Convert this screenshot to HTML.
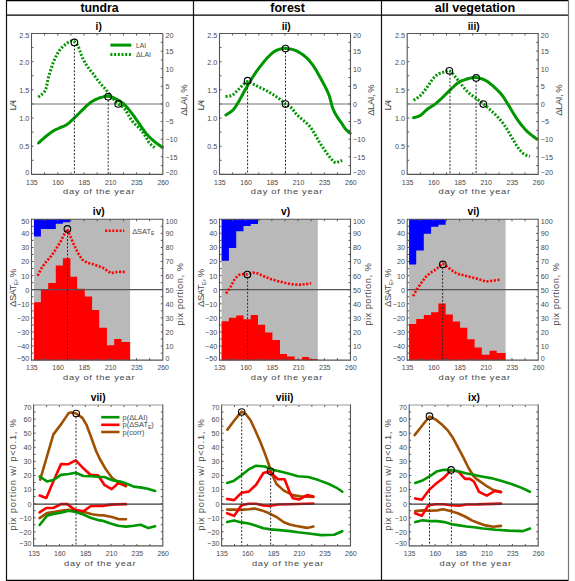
<!DOCTYPE html>
<html><head><meta charset="utf-8"><style>
html,body{margin:0;padding:0;background:#fff;}
svg{display:block;font-family:"Liberation Sans",sans-serif;}
</style></head><body>
<svg width="575" height="581" viewBox="0 0 575 581">
<rect x="0" y="0" width="575" height="581" fill="#fff"/>
<line x1="6.5" y1="0.5" x2="568.5" y2="0.5" stroke="#000" stroke-width="1.3"/>
<line x1="6.5" y1="15.2" x2="568.5" y2="15.2" stroke="#000" stroke-width="1.3"/>
<line x1="6.5" y1="580.5" x2="568.5" y2="580.5" stroke="#000" stroke-width="1.3"/>
<line x1="6.5" y1="0" x2="6.5" y2="581" stroke="#111" stroke-width="1.2"/>
<line x1="193.5" y1="0" x2="193.5" y2="581" stroke="#111" stroke-width="1.2"/>
<line x1="381.5" y1="0" x2="381.5" y2="581" stroke="#111" stroke-width="1.2"/>
<line x1="568.5" y1="0" x2="568.5" y2="581" stroke="#777" stroke-width="1.2"/>
<text x="99.6" y="12" font-size="12.2" text-anchor="middle" font-weight="bold" fill="#000" textLength="38.2" lengthAdjust="spacingAndGlyphs">tundra</text>
<text x="287.6" y="12" font-size="12.2" text-anchor="middle" font-weight="bold" fill="#000" textLength="34.6" lengthAdjust="spacingAndGlyphs">forest</text>
<text x="475" y="12" font-size="12.2" text-anchor="middle" font-weight="bold" fill="#000" textLength="80.6" lengthAdjust="spacingAndGlyphs">all vegetation</text>
<line x1="31.5" y1="103.95" x2="162.8" y2="103.95" stroke="#a0a0a0" stroke-width="1.6"/>
<text x="98.7" y="29.5" font-size="10.2" text-anchor="middle" font-weight="bold" fill="#000">i)</text>
<line x1="219.5" y1="103.95" x2="350.5" y2="103.95" stroke="#a0a0a0" stroke-width="1.6"/>
<text x="286.2" y="29.5" font-size="10.2" text-anchor="middle" font-weight="bold" fill="#000">ii)</text>
<line x1="407.2" y1="103.95" x2="538.2" y2="103.95" stroke="#a0a0a0" stroke-width="1.6"/>
<text x="473.7" y="29.5" font-size="10.2" text-anchor="middle" font-weight="bold" fill="#000">iii)</text>
<polyline points="38.5,143 39.14,142.41 40.01,141.6 41.04,140.64 42.19,139.59 43.4,138.52 44.6,137.5 45.85,136.47 47.21,135.38 48.62,134.26 50.04,133.18 51.41,132.17 52.7,131.3 53.88,130.58 54.99,129.99 56.05,129.47 57.1,128.99 58.18,128.52 59.3,128 60.48,127.48 61.68,127.01 62.91,126.54 64.14,126.02 65.38,125.42 66.6,124.7 67.82,123.84 69.03,122.86 70.24,121.8 71.46,120.69 72.68,119.54 73.9,118.4 75.13,117.24 76.36,116.03 77.6,114.79 78.84,113.55 80.07,112.31 81.3,111.1 82.54,109.88 83.8,108.63 85.05,107.39 86.28,106.2 87.47,105.09 88.6,104.1 89.64,103.24 90.61,102.5 91.53,101.83 92.45,101.23 93.39,100.66 94.4,100.1 95.47,99.56 96.59,99.04 97.73,98.57 98.88,98.13 100.04,97.74 101.2,97.4 102.36,97.09 103.52,96.79 104.69,96.54 105.87,96.36 107.04,96.27 108.2,96.3 109.35,96.45 110.47,96.7 111.6,97.04 112.74,97.46 113.9,97.95 115.1,98.5 116.35,99.09 117.64,99.74 118.95,100.46 120.27,101.26 121.6,102.17 122.9,103.2 124.19,104.37 125.47,105.67 126.75,107.07 128.03,108.56 129.31,110.11 130.6,111.7 131.9,113.37 133.2,115.13 134.5,116.95 135.8,118.81 137.1,120.67 138.4,122.5 139.69,124.35 140.97,126.24 142.25,128.14 143.53,130 144.81,131.77 146.1,133.4 147.39,134.89 148.67,136.26 149.95,137.54 151.24,138.76 152.56,139.94 153.9,141.1 155.37,142.29 157,143.51 158.64,144.68 160.17,145.75 161.47,146.64 162.4,147.3" fill="none" stroke="#009600" stroke-width="3" stroke-linejoin="round" stroke-linecap="round"/>
<polyline points="38.3,97.1 39.1,96.44 40.24,95.58 41.58,94.54 42.96,93.34 44.21,92.02 45.2,90.6 45.89,89.01 46.41,87.21 46.81,85.29 47.15,83.33 47.49,81.4 47.9,79.6 48.35,77.94 48.78,76.35 49.21,74.81 49.67,73.26 50.16,71.67 50.7,70 51.29,68.22 51.92,66.36 52.58,64.45 53.28,62.54 54.02,60.68 54.8,58.9 55.62,57.17 56.48,55.46 57.37,53.79 58.31,52.19 59.29,50.69 60.3,49.3 61.4,48.02 62.6,46.83 63.84,45.73 65.06,44.74 66.2,43.86 67.2,43.1 68.06,42.48 68.81,41.99 69.49,41.61 70.11,41.33 70.71,41.13 71.3,41 71.87,40.92 72.38,40.91 72.87,40.97 73.35,41.14 73.85,41.41 74.4,41.8 74.99,42.28 75.6,42.84 76.23,43.51 76.88,44.31 77.54,45.3 78.2,46.5 78.86,48 79.52,49.78 80.19,51.74 80.89,53.77 81.62,55.76 82.4,57.6 83.24,59.32 84.14,61.01 85.07,62.66 86.02,64.26 86.97,65.77 87.9,67.2 88.82,68.51 89.76,69.7 90.69,70.83 91.61,71.91 92.52,72.99 93.4,74.1 94.21,75.21 94.96,76.27 95.68,77.33 96.44,78.43 97.3,79.61 98.3,80.9 99.51,82.37 100.89,83.99 102.36,85.69 103.84,87.39 105.25,89.02 106.5,90.5 107.56,91.82 108.51,93.05 109.38,94.2 110.21,95.31 111.07,96.4 112,97.5 112.99,98.62 114.01,99.74 115.06,100.84 116.11,101.91 117.16,102.94 118.2,103.9 119.21,104.69 120.21,105.31 121.2,105.88 122.21,106.53 123.27,107.39 124.4,108.6 125.61,110.28 126.89,112.34 128.21,114.61 129.55,116.93 130.89,119.12 132.2,121 133.52,122.57 134.89,123.97 136.24,125.24 137.56,126.42 138.79,127.56 139.9,128.7 140.86,129.8 141.69,130.82 142.44,131.79 143.15,132.77 143.86,133.79 144.6,134.9 145.36,136.14 146.11,137.49 146.86,138.88 147.61,140.26 148.39,141.55 149.2,142.7 150.12,143.74 151.14,144.73 152.19,145.64 153.17,146.44 154,147.1 154.6,147.6" fill="none" stroke="#009600" stroke-width="3" stroke-linejoin="round" stroke-linecap="butt" stroke-dasharray="2 1.7"/>
<line x1="74.4" y1="45" x2="74.4" y2="174.4" stroke="#2a2a2a" stroke-width="1" stroke-dasharray="2 1.6"/>
<line x1="108.2" y1="100" x2="108.2" y2="174.4" stroke="#2a2a2a" stroke-width="1" stroke-dasharray="2 1.6"/>
<circle cx="74.4" cy="42.4" r="3.3" fill="none" stroke="#000" stroke-width="1.1"/>
<circle cx="108.2" cy="96.7" r="3.3" fill="none" stroke="#000" stroke-width="1.1"/>
<circle cx="118.2" cy="103.9" r="3.3" fill="none" stroke="#000" stroke-width="1.1"/>
<polyline points="225.9,115 226.69,114.49 227.8,113.81 229.11,113 230.5,112.07 231.83,111.06 233,110 233.98,108.9 234.86,107.73 235.7,106.49 236.54,105.13 237.42,103.65 238.4,102 239.47,100.16 240.6,98.13 241.77,95.96 242.98,93.72 244.23,91.45 245.5,89.2 246.83,86.91 248.23,84.52 249.66,82.1 251.09,79.73 252.48,77.47 253.8,75.4 255.02,73.56 256.16,71.89 257.26,70.34 258.36,68.84 259.49,67.35 260.7,65.8 262.01,64.15 263.39,62.45 264.8,60.75 266.21,59.1 267.59,57.57 268.9,56.2 270.13,54.99 271.3,53.9 272.43,52.93 273.55,52.05 274.67,51.28 275.8,50.6 277,50.04 278.25,49.6 279.5,49.26 280.7,49 281.78,48.79 282.7,48.6 283.34,48.44 283.71,48.32 283.98,48.25 284.28,48.24 284.77,48.29 285.6,48.4 286.82,48.56 288.31,48.74 289.99,48.99 291.78,49.33 293.58,49.79 295.3,50.4 297,51.18 298.76,52.11 300.52,53.17 302.27,54.32 303.94,55.54 305.5,56.8 306.93,58.09 308.26,59.44 309.51,60.85 310.73,62.35 311.95,63.96 313.2,65.7 314.47,67.58 315.74,69.59 317,71.7 318.26,73.9 319.53,76.18 320.8,78.5 322.12,80.92 323.49,83.47 324.87,86.08 326.2,88.71 327.42,91.3 328.5,93.8 329.4,96.27 330.14,98.76 330.79,101.22 331.39,103.57 331.98,105.75 332.6,107.7 333.23,109.35 333.84,110.76 334.43,111.99 335.04,113.13 335.69,114.28 336.4,115.5 337.2,116.81 338.08,118.14 338.99,119.48 339.91,120.78 340.79,122.03 341.6,123.2 342.32,124.29 342.97,125.33 343.58,126.31 344.19,127.25 344.82,128.14 345.5,129 346.29,129.85 347.18,130.7 348.09,131.51 348.95,132.24 349.68,132.85 350.2,133.3" fill="none" stroke="#009600" stroke-width="3" stroke-linejoin="round" stroke-linecap="round"/>
<polyline points="225.6,96.5 226.28,96.42 227.23,96.35 228.36,96.25 229.56,96.08 230.74,95.81 231.8,95.4 232.76,94.82 233.69,94.1 234.59,93.28 235.49,92.39 236.39,91.48 237.3,90.6 238.22,89.7 239.16,88.74 240.09,87.77 241.02,86.81 241.92,85.91 242.8,85.1 243.62,84.33 244.4,83.55 245.16,82.83 245.92,82.23 246.73,81.8 247.6,81.6 248.54,81.7 249.54,82.04 250.57,82.57 251.63,83.19 252.71,83.83 253.8,84.4 254.91,84.93 256.05,85.49 257.21,86.06 258.37,86.64 259.54,87.22 260.7,87.8 261.85,88.37 263,88.94 264.16,89.51 265.31,90.09 266.46,90.68 267.6,91.3 268.74,91.94 269.87,92.6 271,93.27 272.13,93.96 273.26,94.67 274.4,95.4 275.57,96.17 276.79,96.97 278.01,97.79 279.19,98.61 280.3,99.42 281.3,100.2 282.15,100.96 282.87,101.71 283.53,102.45 284.16,103.17 284.83,103.85 285.6,104.5 286.48,105.06 287.42,105.53 288.4,105.96 289.39,106.43 290.37,106.99 291.3,107.7 292.17,108.6 292.99,109.65 293.8,110.79 294.62,111.96 295.48,113.12 296.4,114.2 297.4,115.21 298.47,116.19 299.57,117.14 300.69,118.09 301.81,119.04 302.9,120 303.99,120.94 305.09,121.86 306.18,122.78 307.26,123.73 308.3,124.72 309.3,125.8 310.24,126.96 311.12,128.17 311.98,129.44 312.81,130.76 313.65,132.11 314.5,133.5 315.37,134.95 316.24,136.48 317.11,138.05 317.97,139.62 318.84,141.15 319.7,142.6 320.55,143.97 321.4,145.29 322.25,146.57 323.1,147.83 323.95,149.07 324.8,150.3 325.66,151.54 326.53,152.79 327.4,154.01 328.27,155.2 329.14,156.34 330,157.4 330.87,158.44 331.75,159.47 332.63,160.45 333.49,161.32 334.32,162.02 335.1,162.5 335.83,162.7 336.51,162.66 337.17,162.44 337.8,162.14 338.4,161.84 339,161.6 339.61,161.4 340.24,161.18 340.84,160.94 341.4,160.72 341.86,160.53 342.2,160.4" fill="none" stroke="#009600" stroke-width="3" stroke-linejoin="round" stroke-linecap="butt" stroke-dasharray="2 1.7"/>
<line x1="247.6" y1="84" x2="247.6" y2="174.4" stroke="#2a2a2a" stroke-width="1" stroke-dasharray="2 1.6"/>
<line x1="285.5" y1="52" x2="285.5" y2="174.4" stroke="#2a2a2a" stroke-width="1" stroke-dasharray="2 1.6"/>
<circle cx="247.6" cy="80.7" r="3.3" fill="none" stroke="#000" stroke-width="1.1"/>
<circle cx="285.5" cy="48.6" r="3.3" fill="none" stroke="#000" stroke-width="1.1"/>
<circle cx="285.5" cy="104.1" r="3.3" fill="none" stroke="#000" stroke-width="1.1"/>
<polyline points="413.6,117.8 414.35,117.57 415.39,117.29 416.62,116.93 417.94,116.49 419.27,115.95 420.5,115.3 421.64,114.48 422.77,113.5 423.9,112.41 425.04,111.29 426.2,110.2 427.4,109.2 428.65,108.3 429.94,107.46 431.25,106.65 432.56,105.84 433.85,105 435.1,104.1 436.29,103.16 437.43,102.2 438.54,101.21 439.66,100.19 440.81,99.12 442,98 443.24,96.81 444.5,95.56 445.79,94.26 447.11,92.93 448.44,91.61 449.8,90.3 451.21,88.95 452.67,87.53 454.16,86.1 455.63,84.74 457.06,83.52 458.4,82.5 459.67,81.72 460.91,81.11 462.09,80.65 463.23,80.27 464.3,79.94 465.3,79.6 466.19,79.27 466.97,78.99 467.69,78.76 468.4,78.55 469.16,78.37 470,78.2 470.91,78.02 471.85,77.82 472.83,77.64 473.86,77.53 474.98,77.5 476.2,77.6 477.56,77.82 479.06,78.13 480.63,78.53 482.23,79.03 483.81,79.62 485.3,80.3 486.71,81.1 488.07,82.01 489.41,83.01 490.74,84.09 492.06,85.23 493.4,86.4 494.77,87.62 496.17,88.91 497.57,90.26 498.95,91.64 500.27,93.06 501.5,94.5 502.63,95.96 503.68,97.45 504.68,98.98 505.64,100.53 506.61,102.1 507.6,103.7 508.62,105.34 509.63,107.04 510.65,108.76 511.67,110.47 512.68,112.16 513.7,113.8 514.69,115.37 515.66,116.9 516.62,118.41 517.62,119.9 518.67,121.39 519.8,122.9 521.02,124.45 522.31,126.04 523.66,127.63 525.04,129.19 526.46,130.69 527.9,132.1 529.48,133.49 531.23,134.89 533.01,136.22 534.67,137.44 536.09,138.45 537.1,139.2" fill="none" stroke="#009600" stroke-width="3" stroke-linejoin="round" stroke-linecap="round"/>
<polyline points="413.6,100.3 414.35,99.81 415.39,99.17 416.62,98.39 417.94,97.49 419.27,96.49 420.5,95.4 421.66,94.18 422.83,92.81 424.01,91.33 425.17,89.8 426.3,88.28 427.4,86.8 428.46,85.32 429.5,83.77 430.51,82.23 431.49,80.75 432.46,79.38 433.4,78.2 434.3,77.21 435.16,76.36 436,75.64 436.84,75 437.7,74.43 438.6,73.9 439.57,73.42 440.59,73.03 441.63,72.7 442.66,72.41 443.66,72.15 444.6,71.9 445.46,71.59 446.26,71.21 447.02,70.87 447.79,70.63 448.57,70.58 449.4,70.8 450.27,71.32 451.16,72.09 452.07,73.04 453.01,74.13 453.99,75.3 455,76.5 456.06,77.77 457.17,79.18 458.32,80.67 459.48,82.19 460.65,83.68 461.8,85.1 462.94,86.48 464.09,87.86 465.24,89.22 466.4,90.53 467.55,91.77 468.7,92.9 469.84,93.9 470.97,94.78 472.1,95.58 473.24,96.36 474.4,97.15 475.6,98 476.83,98.9 478.09,99.8 479.38,100.73 480.67,101.67 481.98,102.66 483.3,103.7 484.63,104.79 485.97,105.93 487.33,107.1 488.69,108.31 490.05,109.54 491.4,110.8 492.77,112.09 494.17,113.43 495.57,114.79 496.95,116.16 498.27,117.54 499.5,118.9 500.63,120.23 501.68,121.52 502.68,122.82 503.64,124.14 504.61,125.53 505.6,127 506.62,128.58 507.63,130.25 508.65,131.97 509.67,133.73 510.68,135.48 511.7,137.2 512.72,138.93 513.73,140.7 514.75,142.47 515.77,144.19 516.78,145.81 517.8,147.3 518.82,148.66 519.83,149.94 520.85,151.13 521.87,152.21 522.88,153.17 523.9,154 524.99,154.68 526.16,155.21 527.33,155.62 528.42,155.94 529.34,156.19 530,156.4" fill="none" stroke="#009600" stroke-width="3" stroke-linejoin="round" stroke-linecap="butt" stroke-dasharray="2 1.7"/>
<line x1="450" y1="74" x2="450" y2="174.4" stroke="#2a2a2a" stroke-width="1" stroke-dasharray="2 1.6"/>
<line x1="476.1" y1="81" x2="476.1" y2="174.4" stroke="#2a2a2a" stroke-width="1" stroke-dasharray="2 1.6"/>
<circle cx="449.4" cy="70.8" r="3.3" fill="none" stroke="#000" stroke-width="1.1"/>
<circle cx="476.2" cy="77.9" r="3.3" fill="none" stroke="#000" stroke-width="1.1"/>
<circle cx="483.3" cy="104.1" r="3.3" fill="none" stroke="#000" stroke-width="1.1"/>
<line x1="110.4" y1="45.1" x2="131.3" y2="45.1" stroke="#009600" stroke-width="3"/>
<line x1="110.4" y1="54.5" x2="131.3" y2="54.5" stroke="#009600" stroke-width="3" stroke-dasharray="2 1.7"/>
<text x="136" y="47.6" font-size="7.4" text-anchor="start" font-weight="normal" fill="#484848" textLength="10" lengthAdjust="spacingAndGlyphs">LAI</text>
<text x="136" y="57.1" font-size="7.4" text-anchor="start" font-weight="normal" fill="#484848" textLength="15" lengthAdjust="spacingAndGlyphs">&#916;LAI</text>
<line x1="44.63" y1="174.4" x2="44.63" y2="172.4" stroke="#555" stroke-width="1"/>
<line x1="44.63" y1="33.5" x2="44.63" y2="35.5" stroke="#555" stroke-width="1"/>
<line x1="57.76" y1="174.4" x2="57.76" y2="172.4" stroke="#555" stroke-width="1"/>
<line x1="57.76" y1="33.5" x2="57.76" y2="35.5" stroke="#555" stroke-width="1"/>
<line x1="70.89" y1="174.4" x2="70.89" y2="172.4" stroke="#555" stroke-width="1"/>
<line x1="70.89" y1="33.5" x2="70.89" y2="35.5" stroke="#555" stroke-width="1"/>
<line x1="84.02" y1="174.4" x2="84.02" y2="172.4" stroke="#555" stroke-width="1"/>
<line x1="84.02" y1="33.5" x2="84.02" y2="35.5" stroke="#555" stroke-width="1"/>
<line x1="97.15" y1="174.4" x2="97.15" y2="172.4" stroke="#555" stroke-width="1"/>
<line x1="97.15" y1="33.5" x2="97.15" y2="35.5" stroke="#555" stroke-width="1"/>
<line x1="110.28" y1="174.4" x2="110.28" y2="172.4" stroke="#555" stroke-width="1"/>
<line x1="110.28" y1="33.5" x2="110.28" y2="35.5" stroke="#555" stroke-width="1"/>
<line x1="123.41" y1="174.4" x2="123.41" y2="172.4" stroke="#555" stroke-width="1"/>
<line x1="123.41" y1="33.5" x2="123.41" y2="35.5" stroke="#555" stroke-width="1"/>
<line x1="136.54" y1="174.4" x2="136.54" y2="172.4" stroke="#555" stroke-width="1"/>
<line x1="136.54" y1="33.5" x2="136.54" y2="35.5" stroke="#555" stroke-width="1"/>
<line x1="149.67" y1="174.4" x2="149.67" y2="172.4" stroke="#555" stroke-width="1"/>
<line x1="149.67" y1="33.5" x2="149.67" y2="35.5" stroke="#555" stroke-width="1"/>
<text x="31.9" y="184.7" font-size="7.2" text-anchor="middle" font-weight="normal" fill="#484848" textLength="11.6" lengthAdjust="spacingAndGlyphs">135</text>
<text x="58.16" y="184.7" font-size="7.2" text-anchor="middle" font-weight="normal" fill="#484848" textLength="11.6" lengthAdjust="spacingAndGlyphs">160</text>
<text x="84.42" y="184.7" font-size="7.2" text-anchor="middle" font-weight="normal" fill="#484848" textLength="11.6" lengthAdjust="spacingAndGlyphs">185</text>
<text x="110.68" y="184.7" font-size="7.2" text-anchor="middle" font-weight="normal" fill="#484848" textLength="11.6" lengthAdjust="spacingAndGlyphs">210</text>
<text x="136.94" y="184.7" font-size="7.2" text-anchor="middle" font-weight="normal" fill="#484848" textLength="11.6" lengthAdjust="spacingAndGlyphs">235</text>
<text x="163.2" y="184.7" font-size="7.2" text-anchor="middle" font-weight="normal" fill="#484848" textLength="11.6" lengthAdjust="spacingAndGlyphs">260</text>
<text transform="translate(98.75,194.2) scale(1.18,1)" font-size="7.9" text-anchor="middle" fill="#484848" textLength="60.59" lengthAdjust="spacing">day of the year</text>
<line x1="31.5" y1="33.5" x2="162.8" y2="33.5" stroke="#555" stroke-width="1.1"/>
<line x1="31.5" y1="174.4" x2="162.8" y2="174.4" stroke="#555" stroke-width="1.1"/>
<line x1="31.5" y1="32.95" x2="31.5" y2="174.95" stroke="#555" stroke-width="1.1"/>
<line x1="162.8" y1="32.95" x2="162.8" y2="174.95" stroke="#555" stroke-width="1.1"/>
<line x1="31.5" y1="160.31" x2="33.5" y2="160.31" stroke="#555" stroke-width="1"/>
<line x1="31.5" y1="146.22" x2="33.5" y2="146.22" stroke="#555" stroke-width="1"/>
<line x1="31.5" y1="132.13" x2="33.5" y2="132.13" stroke="#555" stroke-width="1"/>
<line x1="31.5" y1="118.04" x2="33.5" y2="118.04" stroke="#555" stroke-width="1"/>
<line x1="31.5" y1="103.95" x2="33.5" y2="103.95" stroke="#555" stroke-width="1"/>
<line x1="31.5" y1="89.86" x2="33.5" y2="89.86" stroke="#555" stroke-width="1"/>
<line x1="31.5" y1="75.77" x2="33.5" y2="75.77" stroke="#555" stroke-width="1"/>
<line x1="31.5" y1="61.68" x2="33.5" y2="61.68" stroke="#555" stroke-width="1"/>
<line x1="31.5" y1="47.59" x2="33.5" y2="47.59" stroke="#555" stroke-width="1"/>
<text x="29.3" y="174.9" font-size="7.2" text-anchor="end" font-weight="normal" fill="#484848">0</text>
<text x="29.3" y="149.12" font-size="7.2" text-anchor="end" font-weight="normal" fill="#484848">0.5</text>
<text x="29.3" y="120.94" font-size="7.2" text-anchor="end" font-weight="normal" fill="#484848">1.0</text>
<text x="29.3" y="92.76" font-size="7.2" text-anchor="end" font-weight="normal" fill="#484848">1.5</text>
<text x="29.3" y="64.58" font-size="7.2" text-anchor="end" font-weight="normal" fill="#484848">2.0</text>
<text x="29.3" y="38" font-size="7.2" text-anchor="end" font-weight="normal" fill="#484848">2.5</text>
<line x1="162.8" y1="165.59" x2="160.8" y2="165.59" stroke="#555" stroke-width="1"/>
<line x1="162.8" y1="156.79" x2="160.8" y2="156.79" stroke="#555" stroke-width="1"/>
<line x1="162.8" y1="147.98" x2="160.8" y2="147.98" stroke="#555" stroke-width="1"/>
<line x1="162.8" y1="139.18" x2="160.8" y2="139.18" stroke="#555" stroke-width="1"/>
<line x1="162.8" y1="130.37" x2="160.8" y2="130.37" stroke="#555" stroke-width="1"/>
<line x1="162.8" y1="121.56" x2="160.8" y2="121.56" stroke="#555" stroke-width="1"/>
<line x1="162.8" y1="112.76" x2="160.8" y2="112.76" stroke="#555" stroke-width="1"/>
<line x1="162.8" y1="103.95" x2="160.8" y2="103.95" stroke="#555" stroke-width="1"/>
<line x1="162.8" y1="95.14" x2="160.8" y2="95.14" stroke="#555" stroke-width="1"/>
<line x1="162.8" y1="86.34" x2="160.8" y2="86.34" stroke="#555" stroke-width="1"/>
<line x1="162.8" y1="77.53" x2="160.8" y2="77.53" stroke="#555" stroke-width="1"/>
<line x1="162.8" y1="68.72" x2="160.8" y2="68.72" stroke="#555" stroke-width="1"/>
<line x1="162.8" y1="59.92" x2="160.8" y2="59.92" stroke="#555" stroke-width="1"/>
<line x1="162.8" y1="51.11" x2="160.8" y2="51.11" stroke="#555" stroke-width="1"/>
<line x1="162.8" y1="42.31" x2="160.8" y2="42.31" stroke="#555" stroke-width="1"/>
<text x="165.4" y="174.9" font-size="7.2" text-anchor="start" font-weight="normal" fill="#484848">&#8722;20</text>
<text x="165.4" y="159.69" font-size="7.2" text-anchor="start" font-weight="normal" fill="#484848">&#8722;15</text>
<text x="165.4" y="142.08" font-size="7.2" text-anchor="start" font-weight="normal" fill="#484848">&#8722;10</text>
<text x="165.4" y="124.46" font-size="7.2" text-anchor="start" font-weight="normal" fill="#484848">&#8722;5</text>
<text x="165.4" y="106.85" font-size="7.2" text-anchor="start" font-weight="normal" fill="#484848">0</text>
<text x="165.4" y="89.24" font-size="7.2" text-anchor="start" font-weight="normal" fill="#484848">5</text>
<text x="165.4" y="71.62" font-size="7.2" text-anchor="start" font-weight="normal" fill="#484848">10</text>
<text x="165.4" y="54.01" font-size="7.2" text-anchor="start" font-weight="normal" fill="#484848">15</text>
<text x="165.4" y="38" font-size="7.2" text-anchor="start" font-weight="normal" fill="#484848">20</text>
<text transform="translate(15.6,105.15) rotate(-90) scale(1.15,1)" font-size="8.2" text-anchor="middle" fill="#484848" textLength="9.3" lengthAdjust="spacing">LAI</text>
<text transform="translate(186.7,100.05) rotate(-90) scale(1.15,1)" font-size="8.2" text-anchor="middle" fill="#484848" textLength="27.39" lengthAdjust="spacing">&#916;LAI, %</text>
<line x1="232.6" y1="174.4" x2="232.6" y2="172.4" stroke="#555" stroke-width="1"/>
<line x1="232.6" y1="33.5" x2="232.6" y2="35.5" stroke="#555" stroke-width="1"/>
<line x1="245.7" y1="174.4" x2="245.7" y2="172.4" stroke="#555" stroke-width="1"/>
<line x1="245.7" y1="33.5" x2="245.7" y2="35.5" stroke="#555" stroke-width="1"/>
<line x1="258.8" y1="174.4" x2="258.8" y2="172.4" stroke="#555" stroke-width="1"/>
<line x1="258.8" y1="33.5" x2="258.8" y2="35.5" stroke="#555" stroke-width="1"/>
<line x1="271.9" y1="174.4" x2="271.9" y2="172.4" stroke="#555" stroke-width="1"/>
<line x1="271.9" y1="33.5" x2="271.9" y2="35.5" stroke="#555" stroke-width="1"/>
<line x1="285" y1="174.4" x2="285" y2="172.4" stroke="#555" stroke-width="1"/>
<line x1="285" y1="33.5" x2="285" y2="35.5" stroke="#555" stroke-width="1"/>
<line x1="298.1" y1="174.4" x2="298.1" y2="172.4" stroke="#555" stroke-width="1"/>
<line x1="298.1" y1="33.5" x2="298.1" y2="35.5" stroke="#555" stroke-width="1"/>
<line x1="311.2" y1="174.4" x2="311.2" y2="172.4" stroke="#555" stroke-width="1"/>
<line x1="311.2" y1="33.5" x2="311.2" y2="35.5" stroke="#555" stroke-width="1"/>
<line x1="324.3" y1="174.4" x2="324.3" y2="172.4" stroke="#555" stroke-width="1"/>
<line x1="324.3" y1="33.5" x2="324.3" y2="35.5" stroke="#555" stroke-width="1"/>
<line x1="337.4" y1="174.4" x2="337.4" y2="172.4" stroke="#555" stroke-width="1"/>
<line x1="337.4" y1="33.5" x2="337.4" y2="35.5" stroke="#555" stroke-width="1"/>
<text x="219.9" y="184.7" font-size="7.2" text-anchor="middle" font-weight="normal" fill="#484848" textLength="11.6" lengthAdjust="spacingAndGlyphs">135</text>
<text x="246.1" y="184.7" font-size="7.2" text-anchor="middle" font-weight="normal" fill="#484848" textLength="11.6" lengthAdjust="spacingAndGlyphs">160</text>
<text x="272.3" y="184.7" font-size="7.2" text-anchor="middle" font-weight="normal" fill="#484848" textLength="11.6" lengthAdjust="spacingAndGlyphs">185</text>
<text x="298.5" y="184.7" font-size="7.2" text-anchor="middle" font-weight="normal" fill="#484848" textLength="11.6" lengthAdjust="spacingAndGlyphs">210</text>
<text x="324.7" y="184.7" font-size="7.2" text-anchor="middle" font-weight="normal" fill="#484848" textLength="11.6" lengthAdjust="spacingAndGlyphs">235</text>
<text x="350.9" y="184.7" font-size="7.2" text-anchor="middle" font-weight="normal" fill="#484848" textLength="11.6" lengthAdjust="spacingAndGlyphs">260</text>
<text transform="translate(286.6,194.2) scale(1.18,1)" font-size="7.9" text-anchor="middle" fill="#484848" textLength="60.59" lengthAdjust="spacing">day of the year</text>
<line x1="219.5" y1="33.5" x2="350.5" y2="33.5" stroke="#555" stroke-width="1.1"/>
<line x1="219.5" y1="174.4" x2="350.5" y2="174.4" stroke="#555" stroke-width="1.1"/>
<line x1="219.5" y1="32.95" x2="219.5" y2="174.95" stroke="#555" stroke-width="1.1"/>
<line x1="350.5" y1="32.95" x2="350.5" y2="174.95" stroke="#555" stroke-width="1.1"/>
<line x1="219.5" y1="160.31" x2="221.5" y2="160.31" stroke="#555" stroke-width="1"/>
<line x1="219.5" y1="146.22" x2="221.5" y2="146.22" stroke="#555" stroke-width="1"/>
<line x1="219.5" y1="132.13" x2="221.5" y2="132.13" stroke="#555" stroke-width="1"/>
<line x1="219.5" y1="118.04" x2="221.5" y2="118.04" stroke="#555" stroke-width="1"/>
<line x1="219.5" y1="103.95" x2="221.5" y2="103.95" stroke="#555" stroke-width="1"/>
<line x1="219.5" y1="89.86" x2="221.5" y2="89.86" stroke="#555" stroke-width="1"/>
<line x1="219.5" y1="75.77" x2="221.5" y2="75.77" stroke="#555" stroke-width="1"/>
<line x1="219.5" y1="61.68" x2="221.5" y2="61.68" stroke="#555" stroke-width="1"/>
<line x1="219.5" y1="47.59" x2="221.5" y2="47.59" stroke="#555" stroke-width="1"/>
<text x="217.3" y="174.9" font-size="7.2" text-anchor="end" font-weight="normal" fill="#484848">0</text>
<text x="217.3" y="149.12" font-size="7.2" text-anchor="end" font-weight="normal" fill="#484848">0.5</text>
<text x="217.3" y="120.94" font-size="7.2" text-anchor="end" font-weight="normal" fill="#484848">1.0</text>
<text x="217.3" y="92.76" font-size="7.2" text-anchor="end" font-weight="normal" fill="#484848">1.5</text>
<text x="217.3" y="64.58" font-size="7.2" text-anchor="end" font-weight="normal" fill="#484848">2.0</text>
<text x="217.3" y="38" font-size="7.2" text-anchor="end" font-weight="normal" fill="#484848">2.5</text>
<line x1="350.5" y1="165.59" x2="348.5" y2="165.59" stroke="#555" stroke-width="1"/>
<line x1="350.5" y1="156.79" x2="348.5" y2="156.79" stroke="#555" stroke-width="1"/>
<line x1="350.5" y1="147.98" x2="348.5" y2="147.98" stroke="#555" stroke-width="1"/>
<line x1="350.5" y1="139.18" x2="348.5" y2="139.18" stroke="#555" stroke-width="1"/>
<line x1="350.5" y1="130.37" x2="348.5" y2="130.37" stroke="#555" stroke-width="1"/>
<line x1="350.5" y1="121.56" x2="348.5" y2="121.56" stroke="#555" stroke-width="1"/>
<line x1="350.5" y1="112.76" x2="348.5" y2="112.76" stroke="#555" stroke-width="1"/>
<line x1="350.5" y1="103.95" x2="348.5" y2="103.95" stroke="#555" stroke-width="1"/>
<line x1="350.5" y1="95.14" x2="348.5" y2="95.14" stroke="#555" stroke-width="1"/>
<line x1="350.5" y1="86.34" x2="348.5" y2="86.34" stroke="#555" stroke-width="1"/>
<line x1="350.5" y1="77.53" x2="348.5" y2="77.53" stroke="#555" stroke-width="1"/>
<line x1="350.5" y1="68.72" x2="348.5" y2="68.72" stroke="#555" stroke-width="1"/>
<line x1="350.5" y1="59.92" x2="348.5" y2="59.92" stroke="#555" stroke-width="1"/>
<line x1="350.5" y1="51.11" x2="348.5" y2="51.11" stroke="#555" stroke-width="1"/>
<line x1="350.5" y1="42.31" x2="348.5" y2="42.31" stroke="#555" stroke-width="1"/>
<text x="353.1" y="174.9" font-size="7.2" text-anchor="start" font-weight="normal" fill="#484848">&#8722;20</text>
<text x="353.1" y="159.69" font-size="7.2" text-anchor="start" font-weight="normal" fill="#484848">&#8722;15</text>
<text x="353.1" y="142.08" font-size="7.2" text-anchor="start" font-weight="normal" fill="#484848">&#8722;10</text>
<text x="353.1" y="124.46" font-size="7.2" text-anchor="start" font-weight="normal" fill="#484848">&#8722;5</text>
<text x="353.1" y="106.85" font-size="7.2" text-anchor="start" font-weight="normal" fill="#484848">0</text>
<text x="353.1" y="89.24" font-size="7.2" text-anchor="start" font-weight="normal" fill="#484848">5</text>
<text x="353.1" y="71.62" font-size="7.2" text-anchor="start" font-weight="normal" fill="#484848">10</text>
<text x="353.1" y="54.01" font-size="7.2" text-anchor="start" font-weight="normal" fill="#484848">15</text>
<text x="353.1" y="38" font-size="7.2" text-anchor="start" font-weight="normal" fill="#484848">20</text>
<text transform="translate(203.6,105.15) rotate(-90) scale(1.15,1)" font-size="8.2" text-anchor="middle" fill="#484848" textLength="9.3" lengthAdjust="spacing">LAI</text>
<text transform="translate(374.4,100.05) rotate(-90) scale(1.15,1)" font-size="8.2" text-anchor="middle" fill="#484848" textLength="27.39" lengthAdjust="spacing">&#916;LAI, %</text>
<line x1="420.3" y1="174.4" x2="420.3" y2="172.4" stroke="#555" stroke-width="1"/>
<line x1="420.3" y1="33.5" x2="420.3" y2="35.5" stroke="#555" stroke-width="1"/>
<line x1="433.4" y1="174.4" x2="433.4" y2="172.4" stroke="#555" stroke-width="1"/>
<line x1="433.4" y1="33.5" x2="433.4" y2="35.5" stroke="#555" stroke-width="1"/>
<line x1="446.5" y1="174.4" x2="446.5" y2="172.4" stroke="#555" stroke-width="1"/>
<line x1="446.5" y1="33.5" x2="446.5" y2="35.5" stroke="#555" stroke-width="1"/>
<line x1="459.6" y1="174.4" x2="459.6" y2="172.4" stroke="#555" stroke-width="1"/>
<line x1="459.6" y1="33.5" x2="459.6" y2="35.5" stroke="#555" stroke-width="1"/>
<line x1="472.7" y1="174.4" x2="472.7" y2="172.4" stroke="#555" stroke-width="1"/>
<line x1="472.7" y1="33.5" x2="472.7" y2="35.5" stroke="#555" stroke-width="1"/>
<line x1="485.8" y1="174.4" x2="485.8" y2="172.4" stroke="#555" stroke-width="1"/>
<line x1="485.8" y1="33.5" x2="485.8" y2="35.5" stroke="#555" stroke-width="1"/>
<line x1="498.9" y1="174.4" x2="498.9" y2="172.4" stroke="#555" stroke-width="1"/>
<line x1="498.9" y1="33.5" x2="498.9" y2="35.5" stroke="#555" stroke-width="1"/>
<line x1="512" y1="174.4" x2="512" y2="172.4" stroke="#555" stroke-width="1"/>
<line x1="512" y1="33.5" x2="512" y2="35.5" stroke="#555" stroke-width="1"/>
<line x1="525.1" y1="174.4" x2="525.1" y2="172.4" stroke="#555" stroke-width="1"/>
<line x1="525.1" y1="33.5" x2="525.1" y2="35.5" stroke="#555" stroke-width="1"/>
<text x="407.6" y="184.7" font-size="7.2" text-anchor="middle" font-weight="normal" fill="#484848" textLength="11.6" lengthAdjust="spacingAndGlyphs">135</text>
<text x="433.8" y="184.7" font-size="7.2" text-anchor="middle" font-weight="normal" fill="#484848" textLength="11.6" lengthAdjust="spacingAndGlyphs">160</text>
<text x="460" y="184.7" font-size="7.2" text-anchor="middle" font-weight="normal" fill="#484848" textLength="11.6" lengthAdjust="spacingAndGlyphs">185</text>
<text x="486.2" y="184.7" font-size="7.2" text-anchor="middle" font-weight="normal" fill="#484848" textLength="11.6" lengthAdjust="spacingAndGlyphs">210</text>
<text x="512.4" y="184.7" font-size="7.2" text-anchor="middle" font-weight="normal" fill="#484848" textLength="11.6" lengthAdjust="spacingAndGlyphs">235</text>
<text x="538.6" y="184.7" font-size="7.2" text-anchor="middle" font-weight="normal" fill="#484848" textLength="11.6" lengthAdjust="spacingAndGlyphs">260</text>
<text transform="translate(474.3,194.2) scale(1.18,1)" font-size="7.9" text-anchor="middle" fill="#484848" textLength="60.59" lengthAdjust="spacing">day of the year</text>
<line x1="407.2" y1="33.5" x2="538.2" y2="33.5" stroke="#555" stroke-width="1.1"/>
<line x1="407.2" y1="174.4" x2="538.2" y2="174.4" stroke="#555" stroke-width="1.1"/>
<line x1="407.2" y1="32.95" x2="407.2" y2="174.95" stroke="#555" stroke-width="1.1"/>
<line x1="538.2" y1="32.95" x2="538.2" y2="174.95" stroke="#555" stroke-width="1.1"/>
<line x1="407.2" y1="160.31" x2="409.2" y2="160.31" stroke="#555" stroke-width="1"/>
<line x1="407.2" y1="146.22" x2="409.2" y2="146.22" stroke="#555" stroke-width="1"/>
<line x1="407.2" y1="132.13" x2="409.2" y2="132.13" stroke="#555" stroke-width="1"/>
<line x1="407.2" y1="118.04" x2="409.2" y2="118.04" stroke="#555" stroke-width="1"/>
<line x1="407.2" y1="103.95" x2="409.2" y2="103.95" stroke="#555" stroke-width="1"/>
<line x1="407.2" y1="89.86" x2="409.2" y2="89.86" stroke="#555" stroke-width="1"/>
<line x1="407.2" y1="75.77" x2="409.2" y2="75.77" stroke="#555" stroke-width="1"/>
<line x1="407.2" y1="61.68" x2="409.2" y2="61.68" stroke="#555" stroke-width="1"/>
<line x1="407.2" y1="47.59" x2="409.2" y2="47.59" stroke="#555" stroke-width="1"/>
<text x="405" y="174.9" font-size="7.2" text-anchor="end" font-weight="normal" fill="#484848">0</text>
<text x="405" y="149.12" font-size="7.2" text-anchor="end" font-weight="normal" fill="#484848">0.5</text>
<text x="405" y="120.94" font-size="7.2" text-anchor="end" font-weight="normal" fill="#484848">1.0</text>
<text x="405" y="92.76" font-size="7.2" text-anchor="end" font-weight="normal" fill="#484848">1.5</text>
<text x="405" y="64.58" font-size="7.2" text-anchor="end" font-weight="normal" fill="#484848">2.0</text>
<text x="405" y="38" font-size="7.2" text-anchor="end" font-weight="normal" fill="#484848">2.5</text>
<line x1="538.2" y1="165.59" x2="536.2" y2="165.59" stroke="#555" stroke-width="1"/>
<line x1="538.2" y1="156.79" x2="536.2" y2="156.79" stroke="#555" stroke-width="1"/>
<line x1="538.2" y1="147.98" x2="536.2" y2="147.98" stroke="#555" stroke-width="1"/>
<line x1="538.2" y1="139.18" x2="536.2" y2="139.18" stroke="#555" stroke-width="1"/>
<line x1="538.2" y1="130.37" x2="536.2" y2="130.37" stroke="#555" stroke-width="1"/>
<line x1="538.2" y1="121.56" x2="536.2" y2="121.56" stroke="#555" stroke-width="1"/>
<line x1="538.2" y1="112.76" x2="536.2" y2="112.76" stroke="#555" stroke-width="1"/>
<line x1="538.2" y1="103.95" x2="536.2" y2="103.95" stroke="#555" stroke-width="1"/>
<line x1="538.2" y1="95.14" x2="536.2" y2="95.14" stroke="#555" stroke-width="1"/>
<line x1="538.2" y1="86.34" x2="536.2" y2="86.34" stroke="#555" stroke-width="1"/>
<line x1="538.2" y1="77.53" x2="536.2" y2="77.53" stroke="#555" stroke-width="1"/>
<line x1="538.2" y1="68.72" x2="536.2" y2="68.72" stroke="#555" stroke-width="1"/>
<line x1="538.2" y1="59.92" x2="536.2" y2="59.92" stroke="#555" stroke-width="1"/>
<line x1="538.2" y1="51.11" x2="536.2" y2="51.11" stroke="#555" stroke-width="1"/>
<line x1="538.2" y1="42.31" x2="536.2" y2="42.31" stroke="#555" stroke-width="1"/>
<text x="540.8" y="174.9" font-size="7.2" text-anchor="start" font-weight="normal" fill="#484848">&#8722;20</text>
<text x="540.8" y="159.69" font-size="7.2" text-anchor="start" font-weight="normal" fill="#484848">&#8722;15</text>
<text x="540.8" y="142.08" font-size="7.2" text-anchor="start" font-weight="normal" fill="#484848">&#8722;10</text>
<text x="540.8" y="124.46" font-size="7.2" text-anchor="start" font-weight="normal" fill="#484848">&#8722;5</text>
<text x="540.8" y="106.85" font-size="7.2" text-anchor="start" font-weight="normal" fill="#484848">0</text>
<text x="540.8" y="89.24" font-size="7.2" text-anchor="start" font-weight="normal" fill="#484848">5</text>
<text x="540.8" y="71.62" font-size="7.2" text-anchor="start" font-weight="normal" fill="#484848">10</text>
<text x="540.8" y="54.01" font-size="7.2" text-anchor="start" font-weight="normal" fill="#484848">15</text>
<text x="540.8" y="38" font-size="7.2" text-anchor="start" font-weight="normal" fill="#484848">20</text>
<text transform="translate(391.3,105.15) rotate(-90) scale(1.15,1)" font-size="8.2" text-anchor="middle" fill="#484848" textLength="9.3" lengthAdjust="spacing">LAI</text>
<text transform="translate(562.1,100.05) rotate(-90) scale(1.15,1)" font-size="8.2" text-anchor="middle" fill="#484848" textLength="27.39" lengthAdjust="spacing">&#916;LAI, %</text>
<rect x="33.9" y="219.25" width="96.2" height="140.9" fill="#b9b9b9"/>
<polygon points="33.9,360.15 33.9,302.3 40.9,302.3 40.9,290 48.2,290 48.2,283 55.8,283 55.8,265.4 62.9,265.4 62.9,258.3 70.4,258.3 70.4,276.7 77.1,276.7 77.1,288.8 84.8,288.8 84.8,296.4 92.1,296.4 92.1,310 99.2,310 99.2,327.8 106.9,327.8 106.9,345.3 114.2,345.3 114.2,338.9 121.6,338.9 121.6,342 130.1,342 130.1,360.15" fill="#ff0000"/>
<polygon points="33.9,219.25 33.9,236.4 40.9,236.4 40.9,228.9 48.2,228.9 48.2,228.9 55.8,228.9 55.8,223.8 62.9,223.8 62.9,222.3 70.4,222.3 70.4,219.25" fill="#0000ff"/>
<line x1="31.5" y1="289.7" x2="162.8" y2="289.7" stroke="#555" stroke-width="1.2"/>
<polyline points="37.7,275.7 40.9,269.2 44.8,263.4 50,257.6 55.1,250.5 60.3,242.1 64.2,234.4 67.4,229.2 70.6,237 74.5,246 78.4,253.7 82.2,259.6 87.4,262.8 92.6,264.1 98,266 103.1,267.9 110.8,273.1 118.5,271.8 126,272" fill="none" stroke="#ff0000" stroke-width="2.6" stroke-linejoin="round" stroke-linecap="butt" stroke-dasharray="2.1 1.6"/>
<line x1="67.5" y1="231.9" x2="67.5" y2="360.15" stroke="#2a2a2a" stroke-width="1" stroke-dasharray="2 1.6"/>
<circle cx="67.4" cy="228.9" r="3.3" fill="none" stroke="#000" stroke-width="1.1"/>
<text x="98.8" y="215" font-size="10.2" text-anchor="middle" font-weight="bold" fill="#000">iv)</text>
<line x1="44.63" y1="360.15" x2="44.63" y2="358.15" stroke="#555" stroke-width="1"/>
<line x1="44.63" y1="219.25" x2="44.63" y2="221.25" stroke="#555" stroke-width="1"/>
<line x1="57.76" y1="360.15" x2="57.76" y2="358.15" stroke="#555" stroke-width="1"/>
<line x1="57.76" y1="219.25" x2="57.76" y2="221.25" stroke="#555" stroke-width="1"/>
<line x1="70.89" y1="360.15" x2="70.89" y2="358.15" stroke="#555" stroke-width="1"/>
<line x1="70.89" y1="219.25" x2="70.89" y2="221.25" stroke="#555" stroke-width="1"/>
<line x1="84.02" y1="360.15" x2="84.02" y2="358.15" stroke="#555" stroke-width="1"/>
<line x1="84.02" y1="219.25" x2="84.02" y2="221.25" stroke="#555" stroke-width="1"/>
<line x1="97.15" y1="360.15" x2="97.15" y2="358.15" stroke="#555" stroke-width="1"/>
<line x1="97.15" y1="219.25" x2="97.15" y2="221.25" stroke="#555" stroke-width="1"/>
<line x1="110.28" y1="360.15" x2="110.28" y2="358.15" stroke="#555" stroke-width="1"/>
<line x1="110.28" y1="219.25" x2="110.28" y2="221.25" stroke="#555" stroke-width="1"/>
<line x1="123.41" y1="360.15" x2="123.41" y2="358.15" stroke="#555" stroke-width="1"/>
<line x1="123.41" y1="219.25" x2="123.41" y2="221.25" stroke="#555" stroke-width="1"/>
<line x1="136.54" y1="360.15" x2="136.54" y2="358.15" stroke="#555" stroke-width="1"/>
<line x1="136.54" y1="219.25" x2="136.54" y2="221.25" stroke="#555" stroke-width="1"/>
<line x1="149.67" y1="360.15" x2="149.67" y2="358.15" stroke="#555" stroke-width="1"/>
<line x1="149.67" y1="219.25" x2="149.67" y2="221.25" stroke="#555" stroke-width="1"/>
<text x="31.9" y="370.45" font-size="7.2" text-anchor="middle" font-weight="normal" fill="#484848" textLength="11.6" lengthAdjust="spacingAndGlyphs">135</text>
<text x="58.16" y="370.45" font-size="7.2" text-anchor="middle" font-weight="normal" fill="#484848" textLength="11.6" lengthAdjust="spacingAndGlyphs">160</text>
<text x="84.42" y="370.45" font-size="7.2" text-anchor="middle" font-weight="normal" fill="#484848" textLength="11.6" lengthAdjust="spacingAndGlyphs">185</text>
<text x="110.68" y="370.45" font-size="7.2" text-anchor="middle" font-weight="normal" fill="#484848" textLength="11.6" lengthAdjust="spacingAndGlyphs">210</text>
<text x="136.94" y="370.45" font-size="7.2" text-anchor="middle" font-weight="normal" fill="#484848" textLength="11.6" lengthAdjust="spacingAndGlyphs">235</text>
<text x="163.2" y="370.45" font-size="7.2" text-anchor="middle" font-weight="normal" fill="#484848" textLength="11.6" lengthAdjust="spacingAndGlyphs">260</text>
<text transform="translate(98.75,379.95) scale(1.18,1)" font-size="7.9" text-anchor="middle" fill="#484848" textLength="60.59" lengthAdjust="spacing">day of the year</text>
<line x1="31.5" y1="219.25" x2="162.8" y2="219.25" stroke="#555" stroke-width="1.1"/>
<line x1="31.5" y1="360.15" x2="162.8" y2="360.15" stroke="#555" stroke-width="1.1"/>
<line x1="31.5" y1="218.7" x2="31.5" y2="360.7" stroke="#555" stroke-width="1.1"/>
<line x1="162.8" y1="218.7" x2="162.8" y2="360.7" stroke="#555" stroke-width="1.1"/>
<line x1="31.5" y1="353.1" x2="33.5" y2="353.1" stroke="#555" stroke-width="1"/>
<line x1="31.5" y1="346.06" x2="33.5" y2="346.06" stroke="#555" stroke-width="1"/>
<line x1="31.5" y1="339.01" x2="33.5" y2="339.01" stroke="#555" stroke-width="1"/>
<line x1="31.5" y1="331.97" x2="33.5" y2="331.97" stroke="#555" stroke-width="1"/>
<line x1="31.5" y1="324.92" x2="33.5" y2="324.92" stroke="#555" stroke-width="1"/>
<line x1="31.5" y1="317.88" x2="33.5" y2="317.88" stroke="#555" stroke-width="1"/>
<line x1="31.5" y1="310.83" x2="33.5" y2="310.83" stroke="#555" stroke-width="1"/>
<line x1="31.5" y1="303.79" x2="33.5" y2="303.79" stroke="#555" stroke-width="1"/>
<line x1="31.5" y1="296.75" x2="33.5" y2="296.75" stroke="#555" stroke-width="1"/>
<line x1="31.5" y1="289.7" x2="33.5" y2="289.7" stroke="#555" stroke-width="1"/>
<line x1="31.5" y1="282.65" x2="33.5" y2="282.65" stroke="#555" stroke-width="1"/>
<line x1="31.5" y1="275.61" x2="33.5" y2="275.61" stroke="#555" stroke-width="1"/>
<line x1="31.5" y1="268.56" x2="33.5" y2="268.56" stroke="#555" stroke-width="1"/>
<line x1="31.5" y1="261.52" x2="33.5" y2="261.52" stroke="#555" stroke-width="1"/>
<line x1="31.5" y1="254.47" x2="33.5" y2="254.47" stroke="#555" stroke-width="1"/>
<line x1="31.5" y1="247.43" x2="33.5" y2="247.43" stroke="#555" stroke-width="1"/>
<line x1="31.5" y1="240.38" x2="33.5" y2="240.38" stroke="#555" stroke-width="1"/>
<line x1="31.5" y1="233.34" x2="33.5" y2="233.34" stroke="#555" stroke-width="1"/>
<line x1="31.5" y1="226.3" x2="33.5" y2="226.3" stroke="#555" stroke-width="1"/>
<text x="29.3" y="360.65" font-size="7.2" text-anchor="end" font-weight="normal" fill="#484848">&#8722;50</text>
<text x="29.3" y="348.96" font-size="7.2" text-anchor="end" font-weight="normal" fill="#484848">&#8722;40</text>
<text x="29.3" y="334.87" font-size="7.2" text-anchor="end" font-weight="normal" fill="#484848">&#8722;30</text>
<text x="29.3" y="320.78" font-size="7.2" text-anchor="end" font-weight="normal" fill="#484848">&#8722;20</text>
<text x="29.3" y="306.69" font-size="7.2" text-anchor="end" font-weight="normal" fill="#484848">&#8722;10</text>
<text x="29.3" y="292.6" font-size="7.2" text-anchor="end" font-weight="normal" fill="#484848">0</text>
<text x="29.3" y="278.51" font-size="7.2" text-anchor="end" font-weight="normal" fill="#484848">10</text>
<text x="29.3" y="264.42" font-size="7.2" text-anchor="end" font-weight="normal" fill="#484848">20</text>
<text x="29.3" y="250.33" font-size="7.2" text-anchor="end" font-weight="normal" fill="#484848">30</text>
<text x="29.3" y="236.24" font-size="7.2" text-anchor="end" font-weight="normal" fill="#484848">40</text>
<text x="29.3" y="223.75" font-size="7.2" text-anchor="end" font-weight="normal" fill="#484848">50</text>
<line x1="162.8" y1="353.1" x2="160.8" y2="353.1" stroke="#555" stroke-width="1"/>
<line x1="162.8" y1="346.06" x2="160.8" y2="346.06" stroke="#555" stroke-width="1"/>
<line x1="162.8" y1="339.01" x2="160.8" y2="339.01" stroke="#555" stroke-width="1"/>
<line x1="162.8" y1="331.97" x2="160.8" y2="331.97" stroke="#555" stroke-width="1"/>
<line x1="162.8" y1="324.92" x2="160.8" y2="324.92" stroke="#555" stroke-width="1"/>
<line x1="162.8" y1="317.88" x2="160.8" y2="317.88" stroke="#555" stroke-width="1"/>
<line x1="162.8" y1="310.83" x2="160.8" y2="310.83" stroke="#555" stroke-width="1"/>
<line x1="162.8" y1="303.79" x2="160.8" y2="303.79" stroke="#555" stroke-width="1"/>
<line x1="162.8" y1="296.75" x2="160.8" y2="296.75" stroke="#555" stroke-width="1"/>
<line x1="162.8" y1="289.7" x2="160.8" y2="289.7" stroke="#555" stroke-width="1"/>
<line x1="162.8" y1="282.65" x2="160.8" y2="282.65" stroke="#555" stroke-width="1"/>
<line x1="162.8" y1="275.61" x2="160.8" y2="275.61" stroke="#555" stroke-width="1"/>
<line x1="162.8" y1="268.56" x2="160.8" y2="268.56" stroke="#555" stroke-width="1"/>
<line x1="162.8" y1="261.52" x2="160.8" y2="261.52" stroke="#555" stroke-width="1"/>
<line x1="162.8" y1="254.47" x2="160.8" y2="254.47" stroke="#555" stroke-width="1"/>
<line x1="162.8" y1="247.43" x2="160.8" y2="247.43" stroke="#555" stroke-width="1"/>
<line x1="162.8" y1="240.38" x2="160.8" y2="240.38" stroke="#555" stroke-width="1"/>
<line x1="162.8" y1="233.34" x2="160.8" y2="233.34" stroke="#555" stroke-width="1"/>
<line x1="162.8" y1="226.3" x2="160.8" y2="226.3" stroke="#555" stroke-width="1"/>
<text x="165.4" y="360.65" font-size="7.2" text-anchor="start" font-weight="normal" fill="#484848">0</text>
<text x="165.4" y="348.96" font-size="7.2" text-anchor="start" font-weight="normal" fill="#484848">10</text>
<text x="165.4" y="334.87" font-size="7.2" text-anchor="start" font-weight="normal" fill="#484848">20</text>
<text x="165.4" y="320.78" font-size="7.2" text-anchor="start" font-weight="normal" fill="#484848">30</text>
<text x="165.4" y="306.69" font-size="7.2" text-anchor="start" font-weight="normal" fill="#484848">40</text>
<text x="165.4" y="292.6" font-size="7.2" text-anchor="start" font-weight="normal" fill="#484848">50</text>
<text x="165.4" y="278.51" font-size="7.2" text-anchor="start" font-weight="normal" fill="#484848">60</text>
<text x="165.4" y="264.42" font-size="7.2" text-anchor="start" font-weight="normal" fill="#484848">70</text>
<text x="165.4" y="250.33" font-size="7.2" text-anchor="start" font-weight="normal" fill="#484848">80</text>
<text x="165.4" y="236.24" font-size="7.2" text-anchor="start" font-weight="normal" fill="#484848">90</text>
<text x="165.4" y="223.75" font-size="7.2" text-anchor="start" font-weight="normal" fill="#484848">100</text>
<text transform="translate(15.5,287.9) rotate(-90) scale(1.15,1)" font-size="8.2" text-anchor="middle" fill="#484848" textLength="33.04" lengthAdjust="spacing">&#916;SAT<tspan font-size="5.5" dy="2">E</tspan><tspan dy="-2">, %</tspan></text>
<text transform="translate(183.1,294.4) rotate(-90) scale(1.15,1)" font-size="8.2" text-anchor="middle" fill="#484848" textLength="54.43" lengthAdjust="spacing">pix portion, %</text>
<rect x="221.6" y="219.25" width="96.2" height="140.9" fill="#b9b9b9"/>
<polygon points="221.6,360.15 221.6,321.3 228.9,321.3 228.9,317.8 236.2,317.8 236.2,315.6 243.5,315.6 243.5,319.2 250.7,319.2 250.7,315.1 258,315.1 258,324.7 265.1,324.7 265.1,332.6 272.4,332.6 272.4,339.9 280,339.9 280,353.9 287,353.9 287,356.6 294.7,356.6 294.7,359.6 302,359.6 302,357.1 309.2,357.1 309.2,358.9 317.8,358.9 317.8,360.15" fill="#ff0000"/>
<polygon points="221.6,219.25 221.6,260.8 228.9,260.8 228.9,248.1 236.2,248.1 236.2,231.3 243.5,231.3 243.5,225.9 250.7,225.9 250.7,223.9 258,223.9 258,219.25" fill="#0000ff"/>
<line x1="219.5" y1="289.7" x2="350.5" y2="289.7" stroke="#555" stroke-width="1.2"/>
<polyline points="226,293.5 230.6,286.6 235.1,278.4 239.5,274.8 243.4,273.9 247.4,274.5 252.9,272.6 258,273.5 264.4,276.5 270.7,279 277.1,280.9 284.7,282.8 290.5,284.1 299.5,284.8 305,284.3 311.1,283.3" fill="none" stroke="#ff0000" stroke-width="2.6" stroke-linejoin="round" stroke-linecap="butt" stroke-dasharray="2.1 1.6"/>
<line x1="247.6" y1="277.5" x2="247.6" y2="360.15" stroke="#2a2a2a" stroke-width="1" stroke-dasharray="2 1.6"/>
<circle cx="247.4" cy="274.5" r="3.3" fill="none" stroke="#000" stroke-width="1.1"/>
<text x="285.5" y="215" font-size="10.2" text-anchor="middle" font-weight="bold" fill="#000">v)</text>
<line x1="232.6" y1="360.15" x2="232.6" y2="358.15" stroke="#555" stroke-width="1"/>
<line x1="232.6" y1="219.25" x2="232.6" y2="221.25" stroke="#555" stroke-width="1"/>
<line x1="245.7" y1="360.15" x2="245.7" y2="358.15" stroke="#555" stroke-width="1"/>
<line x1="245.7" y1="219.25" x2="245.7" y2="221.25" stroke="#555" stroke-width="1"/>
<line x1="258.8" y1="360.15" x2="258.8" y2="358.15" stroke="#555" stroke-width="1"/>
<line x1="258.8" y1="219.25" x2="258.8" y2="221.25" stroke="#555" stroke-width="1"/>
<line x1="271.9" y1="360.15" x2="271.9" y2="358.15" stroke="#555" stroke-width="1"/>
<line x1="271.9" y1="219.25" x2="271.9" y2="221.25" stroke="#555" stroke-width="1"/>
<line x1="285" y1="360.15" x2="285" y2="358.15" stroke="#555" stroke-width="1"/>
<line x1="285" y1="219.25" x2="285" y2="221.25" stroke="#555" stroke-width="1"/>
<line x1="298.1" y1="360.15" x2="298.1" y2="358.15" stroke="#555" stroke-width="1"/>
<line x1="298.1" y1="219.25" x2="298.1" y2="221.25" stroke="#555" stroke-width="1"/>
<line x1="311.2" y1="360.15" x2="311.2" y2="358.15" stroke="#555" stroke-width="1"/>
<line x1="311.2" y1="219.25" x2="311.2" y2="221.25" stroke="#555" stroke-width="1"/>
<line x1="324.3" y1="360.15" x2="324.3" y2="358.15" stroke="#555" stroke-width="1"/>
<line x1="324.3" y1="219.25" x2="324.3" y2="221.25" stroke="#555" stroke-width="1"/>
<line x1="337.4" y1="360.15" x2="337.4" y2="358.15" stroke="#555" stroke-width="1"/>
<line x1="337.4" y1="219.25" x2="337.4" y2="221.25" stroke="#555" stroke-width="1"/>
<text x="219.9" y="370.45" font-size="7.2" text-anchor="middle" font-weight="normal" fill="#484848" textLength="11.6" lengthAdjust="spacingAndGlyphs">135</text>
<text x="246.1" y="370.45" font-size="7.2" text-anchor="middle" font-weight="normal" fill="#484848" textLength="11.6" lengthAdjust="spacingAndGlyphs">160</text>
<text x="272.3" y="370.45" font-size="7.2" text-anchor="middle" font-weight="normal" fill="#484848" textLength="11.6" lengthAdjust="spacingAndGlyphs">185</text>
<text x="298.5" y="370.45" font-size="7.2" text-anchor="middle" font-weight="normal" fill="#484848" textLength="11.6" lengthAdjust="spacingAndGlyphs">210</text>
<text x="324.7" y="370.45" font-size="7.2" text-anchor="middle" font-weight="normal" fill="#484848" textLength="11.6" lengthAdjust="spacingAndGlyphs">235</text>
<text x="350.9" y="370.45" font-size="7.2" text-anchor="middle" font-weight="normal" fill="#484848" textLength="11.6" lengthAdjust="spacingAndGlyphs">260</text>
<text transform="translate(286.6,379.95) scale(1.18,1)" font-size="7.9" text-anchor="middle" fill="#484848" textLength="60.59" lengthAdjust="spacing">day of the year</text>
<line x1="219.5" y1="219.25" x2="350.5" y2="219.25" stroke="#555" stroke-width="1.1"/>
<line x1="219.5" y1="360.15" x2="350.5" y2="360.15" stroke="#555" stroke-width="1.1"/>
<line x1="219.5" y1="218.7" x2="219.5" y2="360.7" stroke="#555" stroke-width="1.1"/>
<line x1="350.5" y1="218.7" x2="350.5" y2="360.7" stroke="#555" stroke-width="1.1"/>
<line x1="219.5" y1="353.1" x2="221.5" y2="353.1" stroke="#555" stroke-width="1"/>
<line x1="219.5" y1="346.06" x2="221.5" y2="346.06" stroke="#555" stroke-width="1"/>
<line x1="219.5" y1="339.01" x2="221.5" y2="339.01" stroke="#555" stroke-width="1"/>
<line x1="219.5" y1="331.97" x2="221.5" y2="331.97" stroke="#555" stroke-width="1"/>
<line x1="219.5" y1="324.92" x2="221.5" y2="324.92" stroke="#555" stroke-width="1"/>
<line x1="219.5" y1="317.88" x2="221.5" y2="317.88" stroke="#555" stroke-width="1"/>
<line x1="219.5" y1="310.83" x2="221.5" y2="310.83" stroke="#555" stroke-width="1"/>
<line x1="219.5" y1="303.79" x2="221.5" y2="303.79" stroke="#555" stroke-width="1"/>
<line x1="219.5" y1="296.75" x2="221.5" y2="296.75" stroke="#555" stroke-width="1"/>
<line x1="219.5" y1="289.7" x2="221.5" y2="289.7" stroke="#555" stroke-width="1"/>
<line x1="219.5" y1="282.65" x2="221.5" y2="282.65" stroke="#555" stroke-width="1"/>
<line x1="219.5" y1="275.61" x2="221.5" y2="275.61" stroke="#555" stroke-width="1"/>
<line x1="219.5" y1="268.56" x2="221.5" y2="268.56" stroke="#555" stroke-width="1"/>
<line x1="219.5" y1="261.52" x2="221.5" y2="261.52" stroke="#555" stroke-width="1"/>
<line x1="219.5" y1="254.47" x2="221.5" y2="254.47" stroke="#555" stroke-width="1"/>
<line x1="219.5" y1="247.43" x2="221.5" y2="247.43" stroke="#555" stroke-width="1"/>
<line x1="219.5" y1="240.38" x2="221.5" y2="240.38" stroke="#555" stroke-width="1"/>
<line x1="219.5" y1="233.34" x2="221.5" y2="233.34" stroke="#555" stroke-width="1"/>
<line x1="219.5" y1="226.3" x2="221.5" y2="226.3" stroke="#555" stroke-width="1"/>
<text x="217.3" y="360.65" font-size="7.2" text-anchor="end" font-weight="normal" fill="#484848">&#8722;50</text>
<text x="217.3" y="348.96" font-size="7.2" text-anchor="end" font-weight="normal" fill="#484848">&#8722;40</text>
<text x="217.3" y="334.87" font-size="7.2" text-anchor="end" font-weight="normal" fill="#484848">&#8722;30</text>
<text x="217.3" y="320.78" font-size="7.2" text-anchor="end" font-weight="normal" fill="#484848">&#8722;20</text>
<text x="217.3" y="306.69" font-size="7.2" text-anchor="end" font-weight="normal" fill="#484848">&#8722;10</text>
<text x="217.3" y="292.6" font-size="7.2" text-anchor="end" font-weight="normal" fill="#484848">0</text>
<text x="217.3" y="278.51" font-size="7.2" text-anchor="end" font-weight="normal" fill="#484848">10</text>
<text x="217.3" y="264.42" font-size="7.2" text-anchor="end" font-weight="normal" fill="#484848">20</text>
<text x="217.3" y="250.33" font-size="7.2" text-anchor="end" font-weight="normal" fill="#484848">30</text>
<text x="217.3" y="236.24" font-size="7.2" text-anchor="end" font-weight="normal" fill="#484848">40</text>
<text x="217.3" y="223.75" font-size="7.2" text-anchor="end" font-weight="normal" fill="#484848">50</text>
<line x1="350.5" y1="353.1" x2="348.5" y2="353.1" stroke="#555" stroke-width="1"/>
<line x1="350.5" y1="346.06" x2="348.5" y2="346.06" stroke="#555" stroke-width="1"/>
<line x1="350.5" y1="339.01" x2="348.5" y2="339.01" stroke="#555" stroke-width="1"/>
<line x1="350.5" y1="331.97" x2="348.5" y2="331.97" stroke="#555" stroke-width="1"/>
<line x1="350.5" y1="324.92" x2="348.5" y2="324.92" stroke="#555" stroke-width="1"/>
<line x1="350.5" y1="317.88" x2="348.5" y2="317.88" stroke="#555" stroke-width="1"/>
<line x1="350.5" y1="310.83" x2="348.5" y2="310.83" stroke="#555" stroke-width="1"/>
<line x1="350.5" y1="303.79" x2="348.5" y2="303.79" stroke="#555" stroke-width="1"/>
<line x1="350.5" y1="296.75" x2="348.5" y2="296.75" stroke="#555" stroke-width="1"/>
<line x1="350.5" y1="289.7" x2="348.5" y2="289.7" stroke="#555" stroke-width="1"/>
<line x1="350.5" y1="282.65" x2="348.5" y2="282.65" stroke="#555" stroke-width="1"/>
<line x1="350.5" y1="275.61" x2="348.5" y2="275.61" stroke="#555" stroke-width="1"/>
<line x1="350.5" y1="268.56" x2="348.5" y2="268.56" stroke="#555" stroke-width="1"/>
<line x1="350.5" y1="261.52" x2="348.5" y2="261.52" stroke="#555" stroke-width="1"/>
<line x1="350.5" y1="254.47" x2="348.5" y2="254.47" stroke="#555" stroke-width="1"/>
<line x1="350.5" y1="247.43" x2="348.5" y2="247.43" stroke="#555" stroke-width="1"/>
<line x1="350.5" y1="240.38" x2="348.5" y2="240.38" stroke="#555" stroke-width="1"/>
<line x1="350.5" y1="233.34" x2="348.5" y2="233.34" stroke="#555" stroke-width="1"/>
<line x1="350.5" y1="226.3" x2="348.5" y2="226.3" stroke="#555" stroke-width="1"/>
<text x="353.1" y="360.65" font-size="7.2" text-anchor="start" font-weight="normal" fill="#484848">0</text>
<text x="353.1" y="348.96" font-size="7.2" text-anchor="start" font-weight="normal" fill="#484848">10</text>
<text x="353.1" y="334.87" font-size="7.2" text-anchor="start" font-weight="normal" fill="#484848">20</text>
<text x="353.1" y="320.78" font-size="7.2" text-anchor="start" font-weight="normal" fill="#484848">30</text>
<text x="353.1" y="306.69" font-size="7.2" text-anchor="start" font-weight="normal" fill="#484848">40</text>
<text x="353.1" y="292.6" font-size="7.2" text-anchor="start" font-weight="normal" fill="#484848">50</text>
<text x="353.1" y="278.51" font-size="7.2" text-anchor="start" font-weight="normal" fill="#484848">60</text>
<text x="353.1" y="264.42" font-size="7.2" text-anchor="start" font-weight="normal" fill="#484848">70</text>
<text x="353.1" y="250.33" font-size="7.2" text-anchor="start" font-weight="normal" fill="#484848">80</text>
<text x="353.1" y="236.24" font-size="7.2" text-anchor="start" font-weight="normal" fill="#484848">90</text>
<text x="353.1" y="223.75" font-size="7.2" text-anchor="start" font-weight="normal" fill="#484848">100</text>
<text transform="translate(203.5,287.9) rotate(-90) scale(1.15,1)" font-size="8.2" text-anchor="middle" fill="#484848" textLength="33.04" lengthAdjust="spacing">&#916;SAT<tspan font-size="5.5" dy="2">E</tspan><tspan dy="-2">, %</tspan></text>
<text transform="translate(370.8,294.4) rotate(-90) scale(1.15,1)" font-size="8.2" text-anchor="middle" fill="#484848" textLength="54.43" lengthAdjust="spacing">pix portion, %</text>
<rect x="409.1" y="219.25" width="96.5" height="140.9" fill="#b9b9b9"/>
<polygon points="409.1,360.15 409.1,323.9 416.2,323.9 416.2,319.1 423.8,319.1 423.8,315.1 431.1,315.1 431.1,312.2 438.4,312.2 438.4,303.4 445.7,303.4 445.7,314.4 452.8,314.4 452.8,321.4 460.1,321.4 460.1,327.8 467.3,327.8 467.3,339.3 474.6,339.3 474.6,347.5 481.8,347.5 481.8,354.7 489.5,354.7 489.5,350.8 496.7,350.8 496.7,352.9 505.6,352.9 505.6,360.15" fill="#ff0000"/>
<polygon points="409.1,219.25 409.1,264.4 416.2,264.4 416.2,250.4 423.8,250.4 423.8,233.8 431.1,233.8 431.1,226.8 438.4,226.8 438.4,224.7 445.7,224.7 445.7,219.25" fill="#0000ff"/>
<line x1="407.2" y1="289.7" x2="538.2" y2="289.7" stroke="#555" stroke-width="1.2"/>
<polyline points="413.1,296.1 416.7,289.6 420.5,284.1 425.6,277.1 430.7,272.6 435.8,269.5 439.6,266.3 442.8,263.7 447.3,266.9 452.4,270.7 457.5,273.9 463.8,275.2 470.3,277.1 478,278.9 485.7,281.5 493.4,280.7 499.8,279.7" fill="none" stroke="#ff0000" stroke-width="2.6" stroke-linejoin="round" stroke-linecap="butt" stroke-dasharray="2.1 1.6"/>
<line x1="442.6" y1="267.4" x2="442.6" y2="360.15" stroke="#2a2a2a" stroke-width="1" stroke-dasharray="2 1.6"/>
<circle cx="442.8" cy="264.4" r="3.3" fill="none" stroke="#000" stroke-width="1.1"/>
<text x="473.5" y="215" font-size="10.2" text-anchor="middle" font-weight="bold" fill="#000">vi)</text>
<line x1="420.3" y1="360.15" x2="420.3" y2="358.15" stroke="#555" stroke-width="1"/>
<line x1="420.3" y1="219.25" x2="420.3" y2="221.25" stroke="#555" stroke-width="1"/>
<line x1="433.4" y1="360.15" x2="433.4" y2="358.15" stroke="#555" stroke-width="1"/>
<line x1="433.4" y1="219.25" x2="433.4" y2="221.25" stroke="#555" stroke-width="1"/>
<line x1="446.5" y1="360.15" x2="446.5" y2="358.15" stroke="#555" stroke-width="1"/>
<line x1="446.5" y1="219.25" x2="446.5" y2="221.25" stroke="#555" stroke-width="1"/>
<line x1="459.6" y1="360.15" x2="459.6" y2="358.15" stroke="#555" stroke-width="1"/>
<line x1="459.6" y1="219.25" x2="459.6" y2="221.25" stroke="#555" stroke-width="1"/>
<line x1="472.7" y1="360.15" x2="472.7" y2="358.15" stroke="#555" stroke-width="1"/>
<line x1="472.7" y1="219.25" x2="472.7" y2="221.25" stroke="#555" stroke-width="1"/>
<line x1="485.8" y1="360.15" x2="485.8" y2="358.15" stroke="#555" stroke-width="1"/>
<line x1="485.8" y1="219.25" x2="485.8" y2="221.25" stroke="#555" stroke-width="1"/>
<line x1="498.9" y1="360.15" x2="498.9" y2="358.15" stroke="#555" stroke-width="1"/>
<line x1="498.9" y1="219.25" x2="498.9" y2="221.25" stroke="#555" stroke-width="1"/>
<line x1="512" y1="360.15" x2="512" y2="358.15" stroke="#555" stroke-width="1"/>
<line x1="512" y1="219.25" x2="512" y2="221.25" stroke="#555" stroke-width="1"/>
<line x1="525.1" y1="360.15" x2="525.1" y2="358.15" stroke="#555" stroke-width="1"/>
<line x1="525.1" y1="219.25" x2="525.1" y2="221.25" stroke="#555" stroke-width="1"/>
<text x="407.6" y="370.45" font-size="7.2" text-anchor="middle" font-weight="normal" fill="#484848" textLength="11.6" lengthAdjust="spacingAndGlyphs">135</text>
<text x="433.8" y="370.45" font-size="7.2" text-anchor="middle" font-weight="normal" fill="#484848" textLength="11.6" lengthAdjust="spacingAndGlyphs">160</text>
<text x="460" y="370.45" font-size="7.2" text-anchor="middle" font-weight="normal" fill="#484848" textLength="11.6" lengthAdjust="spacingAndGlyphs">185</text>
<text x="486.2" y="370.45" font-size="7.2" text-anchor="middle" font-weight="normal" fill="#484848" textLength="11.6" lengthAdjust="spacingAndGlyphs">210</text>
<text x="512.4" y="370.45" font-size="7.2" text-anchor="middle" font-weight="normal" fill="#484848" textLength="11.6" lengthAdjust="spacingAndGlyphs">235</text>
<text x="538.6" y="370.45" font-size="7.2" text-anchor="middle" font-weight="normal" fill="#484848" textLength="11.6" lengthAdjust="spacingAndGlyphs">260</text>
<text transform="translate(474.3,379.95) scale(1.18,1)" font-size="7.9" text-anchor="middle" fill="#484848" textLength="60.59" lengthAdjust="spacing">day of the year</text>
<line x1="407.2" y1="219.25" x2="538.2" y2="219.25" stroke="#555" stroke-width="1.1"/>
<line x1="407.2" y1="360.15" x2="538.2" y2="360.15" stroke="#555" stroke-width="1.1"/>
<line x1="407.2" y1="218.7" x2="407.2" y2="360.7" stroke="#555" stroke-width="1.1"/>
<line x1="538.2" y1="218.7" x2="538.2" y2="360.7" stroke="#555" stroke-width="1.1"/>
<line x1="407.2" y1="353.1" x2="409.2" y2="353.1" stroke="#555" stroke-width="1"/>
<line x1="407.2" y1="346.06" x2="409.2" y2="346.06" stroke="#555" stroke-width="1"/>
<line x1="407.2" y1="339.01" x2="409.2" y2="339.01" stroke="#555" stroke-width="1"/>
<line x1="407.2" y1="331.97" x2="409.2" y2="331.97" stroke="#555" stroke-width="1"/>
<line x1="407.2" y1="324.92" x2="409.2" y2="324.92" stroke="#555" stroke-width="1"/>
<line x1="407.2" y1="317.88" x2="409.2" y2="317.88" stroke="#555" stroke-width="1"/>
<line x1="407.2" y1="310.83" x2="409.2" y2="310.83" stroke="#555" stroke-width="1"/>
<line x1="407.2" y1="303.79" x2="409.2" y2="303.79" stroke="#555" stroke-width="1"/>
<line x1="407.2" y1="296.75" x2="409.2" y2="296.75" stroke="#555" stroke-width="1"/>
<line x1="407.2" y1="289.7" x2="409.2" y2="289.7" stroke="#555" stroke-width="1"/>
<line x1="407.2" y1="282.65" x2="409.2" y2="282.65" stroke="#555" stroke-width="1"/>
<line x1="407.2" y1="275.61" x2="409.2" y2="275.61" stroke="#555" stroke-width="1"/>
<line x1="407.2" y1="268.56" x2="409.2" y2="268.56" stroke="#555" stroke-width="1"/>
<line x1="407.2" y1="261.52" x2="409.2" y2="261.52" stroke="#555" stroke-width="1"/>
<line x1="407.2" y1="254.47" x2="409.2" y2="254.47" stroke="#555" stroke-width="1"/>
<line x1="407.2" y1="247.43" x2="409.2" y2="247.43" stroke="#555" stroke-width="1"/>
<line x1="407.2" y1="240.38" x2="409.2" y2="240.38" stroke="#555" stroke-width="1"/>
<line x1="407.2" y1="233.34" x2="409.2" y2="233.34" stroke="#555" stroke-width="1"/>
<line x1="407.2" y1="226.3" x2="409.2" y2="226.3" stroke="#555" stroke-width="1"/>
<text x="405" y="360.65" font-size="7.2" text-anchor="end" font-weight="normal" fill="#484848">&#8722;50</text>
<text x="405" y="348.96" font-size="7.2" text-anchor="end" font-weight="normal" fill="#484848">&#8722;40</text>
<text x="405" y="334.87" font-size="7.2" text-anchor="end" font-weight="normal" fill="#484848">&#8722;30</text>
<text x="405" y="320.78" font-size="7.2" text-anchor="end" font-weight="normal" fill="#484848">&#8722;20</text>
<text x="405" y="306.69" font-size="7.2" text-anchor="end" font-weight="normal" fill="#484848">&#8722;10</text>
<text x="405" y="292.6" font-size="7.2" text-anchor="end" font-weight="normal" fill="#484848">0</text>
<text x="405" y="278.51" font-size="7.2" text-anchor="end" font-weight="normal" fill="#484848">10</text>
<text x="405" y="264.42" font-size="7.2" text-anchor="end" font-weight="normal" fill="#484848">20</text>
<text x="405" y="250.33" font-size="7.2" text-anchor="end" font-weight="normal" fill="#484848">30</text>
<text x="405" y="236.24" font-size="7.2" text-anchor="end" font-weight="normal" fill="#484848">40</text>
<text x="405" y="223.75" font-size="7.2" text-anchor="end" font-weight="normal" fill="#484848">50</text>
<line x1="538.2" y1="353.1" x2="536.2" y2="353.1" stroke="#555" stroke-width="1"/>
<line x1="538.2" y1="346.06" x2="536.2" y2="346.06" stroke="#555" stroke-width="1"/>
<line x1="538.2" y1="339.01" x2="536.2" y2="339.01" stroke="#555" stroke-width="1"/>
<line x1="538.2" y1="331.97" x2="536.2" y2="331.97" stroke="#555" stroke-width="1"/>
<line x1="538.2" y1="324.92" x2="536.2" y2="324.92" stroke="#555" stroke-width="1"/>
<line x1="538.2" y1="317.88" x2="536.2" y2="317.88" stroke="#555" stroke-width="1"/>
<line x1="538.2" y1="310.83" x2="536.2" y2="310.83" stroke="#555" stroke-width="1"/>
<line x1="538.2" y1="303.79" x2="536.2" y2="303.79" stroke="#555" stroke-width="1"/>
<line x1="538.2" y1="296.75" x2="536.2" y2="296.75" stroke="#555" stroke-width="1"/>
<line x1="538.2" y1="289.7" x2="536.2" y2="289.7" stroke="#555" stroke-width="1"/>
<line x1="538.2" y1="282.65" x2="536.2" y2="282.65" stroke="#555" stroke-width="1"/>
<line x1="538.2" y1="275.61" x2="536.2" y2="275.61" stroke="#555" stroke-width="1"/>
<line x1="538.2" y1="268.56" x2="536.2" y2="268.56" stroke="#555" stroke-width="1"/>
<line x1="538.2" y1="261.52" x2="536.2" y2="261.52" stroke="#555" stroke-width="1"/>
<line x1="538.2" y1="254.47" x2="536.2" y2="254.47" stroke="#555" stroke-width="1"/>
<line x1="538.2" y1="247.43" x2="536.2" y2="247.43" stroke="#555" stroke-width="1"/>
<line x1="538.2" y1="240.38" x2="536.2" y2="240.38" stroke="#555" stroke-width="1"/>
<line x1="538.2" y1="233.34" x2="536.2" y2="233.34" stroke="#555" stroke-width="1"/>
<line x1="538.2" y1="226.3" x2="536.2" y2="226.3" stroke="#555" stroke-width="1"/>
<text x="540.8" y="360.65" font-size="7.2" text-anchor="start" font-weight="normal" fill="#484848">0</text>
<text x="540.8" y="348.96" font-size="7.2" text-anchor="start" font-weight="normal" fill="#484848">10</text>
<text x="540.8" y="334.87" font-size="7.2" text-anchor="start" font-weight="normal" fill="#484848">20</text>
<text x="540.8" y="320.78" font-size="7.2" text-anchor="start" font-weight="normal" fill="#484848">30</text>
<text x="540.8" y="306.69" font-size="7.2" text-anchor="start" font-weight="normal" fill="#484848">40</text>
<text x="540.8" y="292.6" font-size="7.2" text-anchor="start" font-weight="normal" fill="#484848">50</text>
<text x="540.8" y="278.51" font-size="7.2" text-anchor="start" font-weight="normal" fill="#484848">60</text>
<text x="540.8" y="264.42" font-size="7.2" text-anchor="start" font-weight="normal" fill="#484848">70</text>
<text x="540.8" y="250.33" font-size="7.2" text-anchor="start" font-weight="normal" fill="#484848">80</text>
<text x="540.8" y="236.24" font-size="7.2" text-anchor="start" font-weight="normal" fill="#484848">90</text>
<text x="540.8" y="223.75" font-size="7.2" text-anchor="start" font-weight="normal" fill="#484848">100</text>
<text transform="translate(391.2,287.9) rotate(-90) scale(1.15,1)" font-size="8.2" text-anchor="middle" fill="#484848" textLength="33.04" lengthAdjust="spacing">&#916;SAT<tspan font-size="5.5" dy="2">E</tspan><tspan dy="-2">, %</tspan></text>
<text transform="translate(558.5,294.4) rotate(-90) scale(1.15,1)" font-size="8.2" text-anchor="middle" fill="#484848" textLength="54.43" lengthAdjust="spacing">pix portion, %</text>
<line x1="105.1" y1="230.7" x2="124.3" y2="230.7" stroke="#ff0000" stroke-width="2.6" stroke-dasharray="2 1.6"/>
<text x="132.2" y="233.6" font-size="7.4" text-anchor="start" font-weight="normal" fill="#484848">&#916;SAT<tspan font-size="5" dy="1.8">E</tspan></text>
<polyline points="39.6,518.1 47,513.1 54.8,511.9 61,510.8 68.7,509.9 75.7,510.8 84.2,511.9 92,514.2 98.9,515.3 104.3,515.4 112,517 119,519.2 126,519.2" fill="none" stroke="#a04f00" stroke-width="2.6" stroke-linejoin="round" stroke-linecap="round"/>
<polyline points="40.2,479.6 46.5,458 53.4,434.4 61.7,423.4 68.6,413.1 71.3,412.4 76.2,413.5 82.4,417.9 86.5,424.8 90.6,435.8 96.1,451 99.6,458.5 105.8,469.3 112,477.8 118.2,482.5 126,486.3" fill="none" stroke="#a04f00" stroke-width="2.6" stroke-linejoin="round" stroke-linecap="round"/>
<polyline points="39.6,512.3 46.3,508 53.2,508 61,504.1 67.2,504.1 74.9,509.9 83.4,511.4 90.4,506.2 98.9,505.7 102.7,506 110.5,504.6 126,504.1" fill="none" stroke="#ff0000" stroke-width="2.6" stroke-linejoin="round" stroke-linecap="round"/>
<polyline points="39.6,495.6 46.3,497.9 53.2,481.7 61,464.1 67.9,464.3 75.7,460.3 82.7,467.7 90.4,474.7 98.1,475.2 104.3,484.8 111.7,489.1 118.2,483.2 126,485.1" fill="none" stroke="#ff0000" stroke-width="2.6" stroke-linejoin="round" stroke-linecap="round"/>
<polyline points="39.6,525 47,515.8 53.2,513.9 61,512.7 68.7,510.8 75.7,511.9 83.4,514.5 91.2,518.1 99.7,520.4 102.7,520.7 110.5,523.5 118.2,525.8 126,526.6 133.7,525.8 140.7,524.7 148.4,528.1 155.1,526.3" fill="none" stroke="#009600" stroke-width="2.6" stroke-linejoin="round" stroke-linecap="round"/>
<polyline points="39.6,476.5 47,481.4 53.2,480.1 61,474.9 68.7,474 75.7,472.7 83.4,476 92,476.3 100,477 104.3,477 112,480.1 121.3,481.7 127.5,484 133.7,486.6 141.5,487.6 147.7,488.7 155.1,491" fill="none" stroke="#009600" stroke-width="2.6" stroke-linejoin="round" stroke-linecap="round"/>
<line x1="33.6" y1="504.1" x2="162.8" y2="504.1" stroke="#3a3a3a" stroke-width="1.2"/>
<line x1="76" y1="416.5" x2="76" y2="545.9" stroke="#2a2a2a" stroke-width="1" stroke-dasharray="2 1.6"/>
<circle cx="76.2" cy="413.5" r="3.3" fill="none" stroke="#000" stroke-width="1.1"/>
<text x="98.2" y="400.9" font-size="10.2" text-anchor="middle" font-weight="bold" fill="#000">vii)</text>
<line x1="46.52" y1="545.9" x2="46.52" y2="543.9" stroke="#555" stroke-width="1"/>
<line x1="46.52" y1="405" x2="46.52" y2="407" stroke="#555" stroke-width="1"/>
<line x1="59.44" y1="545.9" x2="59.44" y2="543.9" stroke="#555" stroke-width="1"/>
<line x1="59.44" y1="405" x2="59.44" y2="407" stroke="#555" stroke-width="1"/>
<line x1="72.36" y1="545.9" x2="72.36" y2="543.9" stroke="#555" stroke-width="1"/>
<line x1="72.36" y1="405" x2="72.36" y2="407" stroke="#555" stroke-width="1"/>
<line x1="85.28" y1="545.9" x2="85.28" y2="543.9" stroke="#555" stroke-width="1"/>
<line x1="85.28" y1="405" x2="85.28" y2="407" stroke="#555" stroke-width="1"/>
<line x1="98.2" y1="545.9" x2="98.2" y2="543.9" stroke="#555" stroke-width="1"/>
<line x1="98.2" y1="405" x2="98.2" y2="407" stroke="#555" stroke-width="1"/>
<line x1="111.12" y1="545.9" x2="111.12" y2="543.9" stroke="#555" stroke-width="1"/>
<line x1="111.12" y1="405" x2="111.12" y2="407" stroke="#555" stroke-width="1"/>
<line x1="124.04" y1="545.9" x2="124.04" y2="543.9" stroke="#555" stroke-width="1"/>
<line x1="124.04" y1="405" x2="124.04" y2="407" stroke="#555" stroke-width="1"/>
<line x1="136.96" y1="545.9" x2="136.96" y2="543.9" stroke="#555" stroke-width="1"/>
<line x1="136.96" y1="405" x2="136.96" y2="407" stroke="#555" stroke-width="1"/>
<line x1="149.88" y1="545.9" x2="149.88" y2="543.9" stroke="#555" stroke-width="1"/>
<line x1="149.88" y1="405" x2="149.88" y2="407" stroke="#555" stroke-width="1"/>
<text x="34" y="556.2" font-size="7.2" text-anchor="middle" font-weight="normal" fill="#484848" textLength="11.6" lengthAdjust="spacingAndGlyphs">135</text>
<text x="59.84" y="556.2" font-size="7.2" text-anchor="middle" font-weight="normal" fill="#484848" textLength="11.6" lengthAdjust="spacingAndGlyphs">160</text>
<text x="85.68" y="556.2" font-size="7.2" text-anchor="middle" font-weight="normal" fill="#484848" textLength="11.6" lengthAdjust="spacingAndGlyphs">185</text>
<text x="111.52" y="556.2" font-size="7.2" text-anchor="middle" font-weight="normal" fill="#484848" textLength="11.6" lengthAdjust="spacingAndGlyphs">210</text>
<text x="137.36" y="556.2" font-size="7.2" text-anchor="middle" font-weight="normal" fill="#484848" textLength="11.6" lengthAdjust="spacingAndGlyphs">235</text>
<text x="163.2" y="556.2" font-size="7.2" text-anchor="middle" font-weight="normal" fill="#484848" textLength="11.6" lengthAdjust="spacingAndGlyphs">260</text>
<text transform="translate(99.8,565.7) scale(1.18,1)" font-size="7.9" text-anchor="middle" fill="#484848" textLength="60.59" lengthAdjust="spacing">day of the year</text>
<line x1="33.6" y1="405" x2="162.8" y2="405" stroke="#9a9a9a" stroke-width="1.1"/>
<line x1="33.6" y1="545.9" x2="162.8" y2="545.9" stroke="#555" stroke-width="1.1"/>
<line x1="33.6" y1="404.45" x2="33.6" y2="546.45" stroke="#555" stroke-width="1.1"/>
<line x1="162.8" y1="404.45" x2="162.8" y2="546.45" stroke="#555" stroke-width="1.1"/>
<line x1="33.6" y1="538.86" x2="35.6" y2="538.86" stroke="#555" stroke-width="1"/>
<line x1="33.6" y1="531.81" x2="35.6" y2="531.81" stroke="#555" stroke-width="1"/>
<line x1="33.6" y1="524.76" x2="35.6" y2="524.76" stroke="#555" stroke-width="1"/>
<line x1="33.6" y1="517.72" x2="35.6" y2="517.72" stroke="#555" stroke-width="1"/>
<line x1="33.6" y1="510.67" x2="35.6" y2="510.67" stroke="#555" stroke-width="1"/>
<line x1="33.6" y1="503.63" x2="35.6" y2="503.63" stroke="#555" stroke-width="1"/>
<line x1="33.6" y1="496.58" x2="35.6" y2="496.58" stroke="#555" stroke-width="1"/>
<line x1="33.6" y1="489.54" x2="35.6" y2="489.54" stroke="#555" stroke-width="1"/>
<line x1="33.6" y1="482.5" x2="35.6" y2="482.5" stroke="#555" stroke-width="1"/>
<line x1="33.6" y1="475.45" x2="35.6" y2="475.45" stroke="#555" stroke-width="1"/>
<line x1="33.6" y1="468.4" x2="35.6" y2="468.4" stroke="#555" stroke-width="1"/>
<line x1="33.6" y1="461.36" x2="35.6" y2="461.36" stroke="#555" stroke-width="1"/>
<line x1="33.6" y1="454.31" x2="35.6" y2="454.31" stroke="#555" stroke-width="1"/>
<line x1="33.6" y1="447.27" x2="35.6" y2="447.27" stroke="#555" stroke-width="1"/>
<line x1="33.6" y1="440.23" x2="35.6" y2="440.23" stroke="#555" stroke-width="1"/>
<line x1="33.6" y1="433.18" x2="35.6" y2="433.18" stroke="#555" stroke-width="1"/>
<line x1="33.6" y1="426.13" x2="35.6" y2="426.13" stroke="#555" stroke-width="1"/>
<line x1="33.6" y1="419.09" x2="35.6" y2="419.09" stroke="#555" stroke-width="1"/>
<line x1="33.6" y1="412.05" x2="35.6" y2="412.05" stroke="#555" stroke-width="1"/>
<text x="31.4" y="546.4" font-size="7.2" text-anchor="end" font-weight="normal" fill="#484848">&#8722;30</text>
<text x="31.4" y="534.71" font-size="7.2" text-anchor="end" font-weight="normal" fill="#484848">&#8722;20</text>
<text x="31.4" y="520.62" font-size="7.2" text-anchor="end" font-weight="normal" fill="#484848">&#8722;10</text>
<text x="31.4" y="506.53" font-size="7.2" text-anchor="end" font-weight="normal" fill="#484848">0</text>
<text x="31.4" y="492.44" font-size="7.2" text-anchor="end" font-weight="normal" fill="#484848">10</text>
<text x="31.4" y="478.35" font-size="7.2" text-anchor="end" font-weight="normal" fill="#484848">20</text>
<text x="31.4" y="464.26" font-size="7.2" text-anchor="end" font-weight="normal" fill="#484848">30</text>
<text x="31.4" y="450.17" font-size="7.2" text-anchor="end" font-weight="normal" fill="#484848">40</text>
<text x="31.4" y="436.08" font-size="7.2" text-anchor="end" font-weight="normal" fill="#484848">50</text>
<text x="31.4" y="421.99" font-size="7.2" text-anchor="end" font-weight="normal" fill="#484848">60</text>
<text x="31.4" y="409.5" font-size="7.2" text-anchor="end" font-weight="normal" fill="#484848">70</text>
<line x1="162.8" y1="538.86" x2="160.8" y2="538.86" stroke="#555" stroke-width="1"/>
<line x1="162.8" y1="531.81" x2="160.8" y2="531.81" stroke="#555" stroke-width="1"/>
<line x1="162.8" y1="524.76" x2="160.8" y2="524.76" stroke="#555" stroke-width="1"/>
<line x1="162.8" y1="517.72" x2="160.8" y2="517.72" stroke="#555" stroke-width="1"/>
<line x1="162.8" y1="510.67" x2="160.8" y2="510.67" stroke="#555" stroke-width="1"/>
<line x1="162.8" y1="503.63" x2="160.8" y2="503.63" stroke="#555" stroke-width="1"/>
<line x1="162.8" y1="496.58" x2="160.8" y2="496.58" stroke="#555" stroke-width="1"/>
<line x1="162.8" y1="489.54" x2="160.8" y2="489.54" stroke="#555" stroke-width="1"/>
<line x1="162.8" y1="482.5" x2="160.8" y2="482.5" stroke="#555" stroke-width="1"/>
<line x1="162.8" y1="475.45" x2="160.8" y2="475.45" stroke="#555" stroke-width="1"/>
<line x1="162.8" y1="468.4" x2="160.8" y2="468.4" stroke="#555" stroke-width="1"/>
<line x1="162.8" y1="461.36" x2="160.8" y2="461.36" stroke="#555" stroke-width="1"/>
<line x1="162.8" y1="454.31" x2="160.8" y2="454.31" stroke="#555" stroke-width="1"/>
<line x1="162.8" y1="447.27" x2="160.8" y2="447.27" stroke="#555" stroke-width="1"/>
<line x1="162.8" y1="440.23" x2="160.8" y2="440.23" stroke="#555" stroke-width="1"/>
<line x1="162.8" y1="433.18" x2="160.8" y2="433.18" stroke="#555" stroke-width="1"/>
<line x1="162.8" y1="426.13" x2="160.8" y2="426.13" stroke="#555" stroke-width="1"/>
<line x1="162.8" y1="419.09" x2="160.8" y2="419.09" stroke="#555" stroke-width="1"/>
<line x1="162.8" y1="412.05" x2="160.8" y2="412.05" stroke="#555" stroke-width="1"/>
<text transform="translate(15.8,474.9) rotate(-90) scale(1.15,1)" font-size="8.2" text-anchor="middle" fill="#484848" textLength="97.13" lengthAdjust="spacing">pix portion w/ p&lt;0.1, %</text>
<polyline points="227.1,509.6 234.1,509.6 241.4,509.9 248.7,509.3 254.6,508.6 261.9,510.4 269.2,513.3 276.5,517 283.9,522.3 289.7,524.5 295.3,525.8 307,527.9 313.4,526.6" fill="none" stroke="#a04f00" stroke-width="2.6" stroke-linejoin="round" stroke-linecap="round"/>
<polyline points="227.4,429.6 233.1,422 238.6,415.1 241.7,411.7 245.5,413.8 250.4,420 255.2,430.3 260.7,442.7 265.5,455.1 269.6,466.8 272.5,475.5 276.5,484 283.9,490.6 292.8,495.1 300.5,496.4 313.4,496.9" fill="none" stroke="#a04f00" stroke-width="2.6" stroke-linejoin="round" stroke-linecap="round"/>
<polyline points="227.1,513.3 234.1,515.9 241.4,505.2 248.7,503.8 256.1,503.8 263.4,505.5 269.2,506 278,504.5 289.7,504.2 313.4,503.5" fill="none" stroke="#ff0000" stroke-width="2.6" stroke-linejoin="round" stroke-linecap="round"/>
<polyline points="227.1,499 234.1,500.1 241.4,492.8 248.7,491.6 256.1,484.8 263.4,473 269.2,471.4 278,479.3 284.6,479.3 289.7,492.3 292.8,498.2 299.2,499.5 307,495.1 313.4,496.4" fill="none" stroke="#ff0000" stroke-width="2.6" stroke-linejoin="round" stroke-linecap="round"/>
<polyline points="227.1,522.1 234.1,520.6 241.4,522.4 248.7,523.5 256.1,525.7 263.4,528.2 270.7,529.4 279.5,530.1 290,531.1 297.9,532.3 310.8,533.8 321.2,535.1 334.1,534.8 342.3,531.2" fill="none" stroke="#009600" stroke-width="2.6" stroke-linejoin="round" stroke-linecap="round"/>
<polyline points="227.1,482.9 233.4,481.1 241.4,475.2 248.7,469.4 256.1,465.7 264.8,466.5 273.6,470.1 282.4,472 290,474 297.9,476.2 308.2,477 318.6,480.1 328.9,484 336.7,487.8 342.3,491.7" fill="none" stroke="#009600" stroke-width="2.6" stroke-linejoin="round" stroke-linecap="round"/>
<line x1="221.6" y1="504.1" x2="350.5" y2="504.1" stroke="#3a3a3a" stroke-width="1.2"/>
<line x1="241.7" y1="415" x2="241.7" y2="545.9" stroke="#2a2a2a" stroke-width="1" stroke-dasharray="2 1.6"/>
<line x1="270.65" y1="474.3" x2="270.65" y2="545.9" stroke="#2a2a2a" stroke-width="1" stroke-dasharray="2 1.6"/>
<circle cx="241.7" cy="412" r="3.3" fill="none" stroke="#000" stroke-width="1.1"/>
<circle cx="270.6" cy="471.3" r="3.3" fill="none" stroke="#000" stroke-width="1.1"/>
<text x="284.6" y="400.9" font-size="10.2" text-anchor="middle" font-weight="bold" fill="#000">viii)</text>
<line x1="234.49" y1="545.9" x2="234.49" y2="543.9" stroke="#555" stroke-width="1"/>
<line x1="234.49" y1="405" x2="234.49" y2="407" stroke="#555" stroke-width="1"/>
<line x1="247.38" y1="545.9" x2="247.38" y2="543.9" stroke="#555" stroke-width="1"/>
<line x1="247.38" y1="405" x2="247.38" y2="407" stroke="#555" stroke-width="1"/>
<line x1="260.27" y1="545.9" x2="260.27" y2="543.9" stroke="#555" stroke-width="1"/>
<line x1="260.27" y1="405" x2="260.27" y2="407" stroke="#555" stroke-width="1"/>
<line x1="273.16" y1="545.9" x2="273.16" y2="543.9" stroke="#555" stroke-width="1"/>
<line x1="273.16" y1="405" x2="273.16" y2="407" stroke="#555" stroke-width="1"/>
<line x1="286.05" y1="545.9" x2="286.05" y2="543.9" stroke="#555" stroke-width="1"/>
<line x1="286.05" y1="405" x2="286.05" y2="407" stroke="#555" stroke-width="1"/>
<line x1="298.94" y1="545.9" x2="298.94" y2="543.9" stroke="#555" stroke-width="1"/>
<line x1="298.94" y1="405" x2="298.94" y2="407" stroke="#555" stroke-width="1"/>
<line x1="311.83" y1="545.9" x2="311.83" y2="543.9" stroke="#555" stroke-width="1"/>
<line x1="311.83" y1="405" x2="311.83" y2="407" stroke="#555" stroke-width="1"/>
<line x1="324.72" y1="545.9" x2="324.72" y2="543.9" stroke="#555" stroke-width="1"/>
<line x1="324.72" y1="405" x2="324.72" y2="407" stroke="#555" stroke-width="1"/>
<line x1="337.61" y1="545.9" x2="337.61" y2="543.9" stroke="#555" stroke-width="1"/>
<line x1="337.61" y1="405" x2="337.61" y2="407" stroke="#555" stroke-width="1"/>
<text x="222" y="556.2" font-size="7.2" text-anchor="middle" font-weight="normal" fill="#484848" textLength="11.6" lengthAdjust="spacingAndGlyphs">135</text>
<text x="247.78" y="556.2" font-size="7.2" text-anchor="middle" font-weight="normal" fill="#484848" textLength="11.6" lengthAdjust="spacingAndGlyphs">160</text>
<text x="273.56" y="556.2" font-size="7.2" text-anchor="middle" font-weight="normal" fill="#484848" textLength="11.6" lengthAdjust="spacingAndGlyphs">185</text>
<text x="299.34" y="556.2" font-size="7.2" text-anchor="middle" font-weight="normal" fill="#484848" textLength="11.6" lengthAdjust="spacingAndGlyphs">210</text>
<text x="325.12" y="556.2" font-size="7.2" text-anchor="middle" font-weight="normal" fill="#484848" textLength="11.6" lengthAdjust="spacingAndGlyphs">235</text>
<text x="350.9" y="556.2" font-size="7.2" text-anchor="middle" font-weight="normal" fill="#484848" textLength="11.6" lengthAdjust="spacingAndGlyphs">260</text>
<text transform="translate(287.65,565.7) scale(1.18,1)" font-size="7.9" text-anchor="middle" fill="#484848" textLength="60.59" lengthAdjust="spacing">day of the year</text>
<line x1="221.6" y1="405" x2="350.5" y2="405" stroke="#9a9a9a" stroke-width="1.1"/>
<line x1="221.6" y1="545.9" x2="350.5" y2="545.9" stroke="#555" stroke-width="1.1"/>
<line x1="221.6" y1="404.45" x2="221.6" y2="546.45" stroke="#555" stroke-width="1.1"/>
<line x1="350.5" y1="404.45" x2="350.5" y2="546.45" stroke="#555" stroke-width="1.1"/>
<line x1="221.6" y1="538.86" x2="223.6" y2="538.86" stroke="#555" stroke-width="1"/>
<line x1="221.6" y1="531.81" x2="223.6" y2="531.81" stroke="#555" stroke-width="1"/>
<line x1="221.6" y1="524.76" x2="223.6" y2="524.76" stroke="#555" stroke-width="1"/>
<line x1="221.6" y1="517.72" x2="223.6" y2="517.72" stroke="#555" stroke-width="1"/>
<line x1="221.6" y1="510.67" x2="223.6" y2="510.67" stroke="#555" stroke-width="1"/>
<line x1="221.6" y1="503.63" x2="223.6" y2="503.63" stroke="#555" stroke-width="1"/>
<line x1="221.6" y1="496.58" x2="223.6" y2="496.58" stroke="#555" stroke-width="1"/>
<line x1="221.6" y1="489.54" x2="223.6" y2="489.54" stroke="#555" stroke-width="1"/>
<line x1="221.6" y1="482.5" x2="223.6" y2="482.5" stroke="#555" stroke-width="1"/>
<line x1="221.6" y1="475.45" x2="223.6" y2="475.45" stroke="#555" stroke-width="1"/>
<line x1="221.6" y1="468.4" x2="223.6" y2="468.4" stroke="#555" stroke-width="1"/>
<line x1="221.6" y1="461.36" x2="223.6" y2="461.36" stroke="#555" stroke-width="1"/>
<line x1="221.6" y1="454.31" x2="223.6" y2="454.31" stroke="#555" stroke-width="1"/>
<line x1="221.6" y1="447.27" x2="223.6" y2="447.27" stroke="#555" stroke-width="1"/>
<line x1="221.6" y1="440.23" x2="223.6" y2="440.23" stroke="#555" stroke-width="1"/>
<line x1="221.6" y1="433.18" x2="223.6" y2="433.18" stroke="#555" stroke-width="1"/>
<line x1="221.6" y1="426.13" x2="223.6" y2="426.13" stroke="#555" stroke-width="1"/>
<line x1="221.6" y1="419.09" x2="223.6" y2="419.09" stroke="#555" stroke-width="1"/>
<line x1="221.6" y1="412.05" x2="223.6" y2="412.05" stroke="#555" stroke-width="1"/>
<text x="219.4" y="546.4" font-size="7.2" text-anchor="end" font-weight="normal" fill="#484848">&#8722;30</text>
<text x="219.4" y="534.71" font-size="7.2" text-anchor="end" font-weight="normal" fill="#484848">&#8722;20</text>
<text x="219.4" y="520.62" font-size="7.2" text-anchor="end" font-weight="normal" fill="#484848">&#8722;10</text>
<text x="219.4" y="506.53" font-size="7.2" text-anchor="end" font-weight="normal" fill="#484848">0</text>
<text x="219.4" y="492.44" font-size="7.2" text-anchor="end" font-weight="normal" fill="#484848">10</text>
<text x="219.4" y="478.35" font-size="7.2" text-anchor="end" font-weight="normal" fill="#484848">20</text>
<text x="219.4" y="464.26" font-size="7.2" text-anchor="end" font-weight="normal" fill="#484848">30</text>
<text x="219.4" y="450.17" font-size="7.2" text-anchor="end" font-weight="normal" fill="#484848">40</text>
<text x="219.4" y="436.08" font-size="7.2" text-anchor="end" font-weight="normal" fill="#484848">50</text>
<text x="219.4" y="421.99" font-size="7.2" text-anchor="end" font-weight="normal" fill="#484848">60</text>
<text x="219.4" y="409.5" font-size="7.2" text-anchor="end" font-weight="normal" fill="#484848">70</text>
<line x1="350.5" y1="538.86" x2="348.5" y2="538.86" stroke="#555" stroke-width="1"/>
<line x1="350.5" y1="531.81" x2="348.5" y2="531.81" stroke="#555" stroke-width="1"/>
<line x1="350.5" y1="524.76" x2="348.5" y2="524.76" stroke="#555" stroke-width="1"/>
<line x1="350.5" y1="517.72" x2="348.5" y2="517.72" stroke="#555" stroke-width="1"/>
<line x1="350.5" y1="510.67" x2="348.5" y2="510.67" stroke="#555" stroke-width="1"/>
<line x1="350.5" y1="503.63" x2="348.5" y2="503.63" stroke="#555" stroke-width="1"/>
<line x1="350.5" y1="496.58" x2="348.5" y2="496.58" stroke="#555" stroke-width="1"/>
<line x1="350.5" y1="489.54" x2="348.5" y2="489.54" stroke="#555" stroke-width="1"/>
<line x1="350.5" y1="482.5" x2="348.5" y2="482.5" stroke="#555" stroke-width="1"/>
<line x1="350.5" y1="475.45" x2="348.5" y2="475.45" stroke="#555" stroke-width="1"/>
<line x1="350.5" y1="468.4" x2="348.5" y2="468.4" stroke="#555" stroke-width="1"/>
<line x1="350.5" y1="461.36" x2="348.5" y2="461.36" stroke="#555" stroke-width="1"/>
<line x1="350.5" y1="454.31" x2="348.5" y2="454.31" stroke="#555" stroke-width="1"/>
<line x1="350.5" y1="447.27" x2="348.5" y2="447.27" stroke="#555" stroke-width="1"/>
<line x1="350.5" y1="440.23" x2="348.5" y2="440.23" stroke="#555" stroke-width="1"/>
<line x1="350.5" y1="433.18" x2="348.5" y2="433.18" stroke="#555" stroke-width="1"/>
<line x1="350.5" y1="426.13" x2="348.5" y2="426.13" stroke="#555" stroke-width="1"/>
<line x1="350.5" y1="419.09" x2="348.5" y2="419.09" stroke="#555" stroke-width="1"/>
<line x1="350.5" y1="412.05" x2="348.5" y2="412.05" stroke="#555" stroke-width="1"/>
<text transform="translate(203.8,474.9) rotate(-90) scale(1.15,1)" font-size="8.2" text-anchor="middle" fill="#484848" textLength="97.13" lengthAdjust="spacing">pix portion w/ p&lt;0.1, %</text>
<polyline points="415.2,511.1 422.6,510.4 429.9,510.7 437.2,510.4 443,509.3 450.4,511.1 457.7,513.3 465,516.5 472.3,520.6 477.8,522.8 485.5,525.4 493.3,526.7 501,525.9" fill="none" stroke="#a04f00" stroke-width="2.6" stroke-linejoin="round" stroke-linecap="round"/>
<polyline points="414.6,435.1 420.1,428.2 425.6,421.3 429.5,416.5 435.3,419.3 442.2,424.8 447.7,430.3 452.5,437.2 457.3,446.1 462.8,456.4 468.3,467.5 473.8,476.5 477.8,479.9 485.5,485.3 493.3,490 501,491.8" fill="none" stroke="#a04f00" stroke-width="2.6" stroke-linejoin="round" stroke-linecap="round"/>
<polyline points="415.2,513.3 421.8,515.9 428.4,505.2 435.7,504.2 443,504.2 451.8,505.2 459.1,505.7 466.5,504.5 477,504.4 501,503.6" fill="none" stroke="#ff0000" stroke-width="2.6" stroke-linejoin="round" stroke-linecap="round"/>
<polyline points="415.2,498.4 421.8,499.8 429.1,489.9 436.5,483.3 443.8,477.9 451.1,470.1 458.4,471.6 465,478.9 470,478.9 473.9,481.5 479.1,491.8 486.8,495.7 494.6,491 501,492.3" fill="none" stroke="#ff0000" stroke-width="2.6" stroke-linejoin="round" stroke-linecap="round"/>
<polyline points="415.2,522.1 422.6,520.3 429.9,521.1 437.2,521.1 444.5,522.1 451.8,524.3 459.1,525.4 466.5,526.5 474,527.2 482.9,528.5 495.9,529.8 508.8,530.6 523,531.1 530,528.5" fill="none" stroke="#009600" stroke-width="2.6" stroke-linejoin="round" stroke-linecap="round"/>
<polyline points="415.2,482.9 421.8,480.8 429.1,476.7 436.5,471.6 443.8,469.7 451.1,470.1 458.4,471.3 465.7,473.3 472.3,474.5 480.3,476.3 490.7,478.1 501,480.7 511.4,484 521.7,487.9 530,491.8" fill="none" stroke="#009600" stroke-width="2.6" stroke-linejoin="round" stroke-linecap="round"/>
<line x1="409.2" y1="504.1" x2="538.2" y2="504.1" stroke="#3a3a3a" stroke-width="1.2"/>
<line x1="429.5" y1="419.2" x2="429.5" y2="545.9" stroke="#2a2a2a" stroke-width="1" stroke-dasharray="2 1.6"/>
<line x1="451.4" y1="472.9" x2="451.4" y2="545.9" stroke="#2a2a2a" stroke-width="1" stroke-dasharray="2 1.6"/>
<circle cx="429.5" cy="416.2" r="3.3" fill="none" stroke="#000" stroke-width="1.1"/>
<circle cx="451.1" cy="469.9" r="3.3" fill="none" stroke="#000" stroke-width="1.1"/>
<text x="474" y="400.9" font-size="10.2" text-anchor="middle" font-weight="bold" fill="#000">ix)</text>
<line x1="422.1" y1="545.9" x2="422.1" y2="543.9" stroke="#555" stroke-width="1"/>
<line x1="422.1" y1="405" x2="422.1" y2="407" stroke="#555" stroke-width="1"/>
<line x1="435" y1="545.9" x2="435" y2="543.9" stroke="#555" stroke-width="1"/>
<line x1="435" y1="405" x2="435" y2="407" stroke="#555" stroke-width="1"/>
<line x1="447.9" y1="545.9" x2="447.9" y2="543.9" stroke="#555" stroke-width="1"/>
<line x1="447.9" y1="405" x2="447.9" y2="407" stroke="#555" stroke-width="1"/>
<line x1="460.8" y1="545.9" x2="460.8" y2="543.9" stroke="#555" stroke-width="1"/>
<line x1="460.8" y1="405" x2="460.8" y2="407" stroke="#555" stroke-width="1"/>
<line x1="473.7" y1="545.9" x2="473.7" y2="543.9" stroke="#555" stroke-width="1"/>
<line x1="473.7" y1="405" x2="473.7" y2="407" stroke="#555" stroke-width="1"/>
<line x1="486.6" y1="545.9" x2="486.6" y2="543.9" stroke="#555" stroke-width="1"/>
<line x1="486.6" y1="405" x2="486.6" y2="407" stroke="#555" stroke-width="1"/>
<line x1="499.5" y1="545.9" x2="499.5" y2="543.9" stroke="#555" stroke-width="1"/>
<line x1="499.5" y1="405" x2="499.5" y2="407" stroke="#555" stroke-width="1"/>
<line x1="512.4" y1="545.9" x2="512.4" y2="543.9" stroke="#555" stroke-width="1"/>
<line x1="512.4" y1="405" x2="512.4" y2="407" stroke="#555" stroke-width="1"/>
<line x1="525.3" y1="545.9" x2="525.3" y2="543.9" stroke="#555" stroke-width="1"/>
<line x1="525.3" y1="405" x2="525.3" y2="407" stroke="#555" stroke-width="1"/>
<text x="409.6" y="556.2" font-size="7.2" text-anchor="middle" font-weight="normal" fill="#484848" textLength="11.6" lengthAdjust="spacingAndGlyphs">135</text>
<text x="435.4" y="556.2" font-size="7.2" text-anchor="middle" font-weight="normal" fill="#484848" textLength="11.6" lengthAdjust="spacingAndGlyphs">160</text>
<text x="461.2" y="556.2" font-size="7.2" text-anchor="middle" font-weight="normal" fill="#484848" textLength="11.6" lengthAdjust="spacingAndGlyphs">185</text>
<text x="487" y="556.2" font-size="7.2" text-anchor="middle" font-weight="normal" fill="#484848" textLength="11.6" lengthAdjust="spacingAndGlyphs">210</text>
<text x="512.8" y="556.2" font-size="7.2" text-anchor="middle" font-weight="normal" fill="#484848" textLength="11.6" lengthAdjust="spacingAndGlyphs">235</text>
<text x="538.6" y="556.2" font-size="7.2" text-anchor="middle" font-weight="normal" fill="#484848" textLength="11.6" lengthAdjust="spacingAndGlyphs">260</text>
<text transform="translate(475.3,565.7) scale(1.18,1)" font-size="7.9" text-anchor="middle" fill="#484848" textLength="60.59" lengthAdjust="spacing">day of the year</text>
<line x1="409.2" y1="405" x2="538.2" y2="405" stroke="#9a9a9a" stroke-width="1.1"/>
<line x1="409.2" y1="545.9" x2="538.2" y2="545.9" stroke="#555" stroke-width="1.1"/>
<line x1="409.2" y1="404.45" x2="409.2" y2="546.45" stroke="#555" stroke-width="1.1"/>
<line x1="538.2" y1="404.45" x2="538.2" y2="546.45" stroke="#555" stroke-width="1.1"/>
<line x1="409.2" y1="538.86" x2="411.2" y2="538.86" stroke="#555" stroke-width="1"/>
<line x1="409.2" y1="531.81" x2="411.2" y2="531.81" stroke="#555" stroke-width="1"/>
<line x1="409.2" y1="524.76" x2="411.2" y2="524.76" stroke="#555" stroke-width="1"/>
<line x1="409.2" y1="517.72" x2="411.2" y2="517.72" stroke="#555" stroke-width="1"/>
<line x1="409.2" y1="510.67" x2="411.2" y2="510.67" stroke="#555" stroke-width="1"/>
<line x1="409.2" y1="503.63" x2="411.2" y2="503.63" stroke="#555" stroke-width="1"/>
<line x1="409.2" y1="496.58" x2="411.2" y2="496.58" stroke="#555" stroke-width="1"/>
<line x1="409.2" y1="489.54" x2="411.2" y2="489.54" stroke="#555" stroke-width="1"/>
<line x1="409.2" y1="482.5" x2="411.2" y2="482.5" stroke="#555" stroke-width="1"/>
<line x1="409.2" y1="475.45" x2="411.2" y2="475.45" stroke="#555" stroke-width="1"/>
<line x1="409.2" y1="468.4" x2="411.2" y2="468.4" stroke="#555" stroke-width="1"/>
<line x1="409.2" y1="461.36" x2="411.2" y2="461.36" stroke="#555" stroke-width="1"/>
<line x1="409.2" y1="454.31" x2="411.2" y2="454.31" stroke="#555" stroke-width="1"/>
<line x1="409.2" y1="447.27" x2="411.2" y2="447.27" stroke="#555" stroke-width="1"/>
<line x1="409.2" y1="440.23" x2="411.2" y2="440.23" stroke="#555" stroke-width="1"/>
<line x1="409.2" y1="433.18" x2="411.2" y2="433.18" stroke="#555" stroke-width="1"/>
<line x1="409.2" y1="426.13" x2="411.2" y2="426.13" stroke="#555" stroke-width="1"/>
<line x1="409.2" y1="419.09" x2="411.2" y2="419.09" stroke="#555" stroke-width="1"/>
<line x1="409.2" y1="412.05" x2="411.2" y2="412.05" stroke="#555" stroke-width="1"/>
<text x="407" y="546.4" font-size="7.2" text-anchor="end" font-weight="normal" fill="#484848">&#8722;30</text>
<text x="407" y="534.71" font-size="7.2" text-anchor="end" font-weight="normal" fill="#484848">&#8722;20</text>
<text x="407" y="520.62" font-size="7.2" text-anchor="end" font-weight="normal" fill="#484848">&#8722;10</text>
<text x="407" y="506.53" font-size="7.2" text-anchor="end" font-weight="normal" fill="#484848">0</text>
<text x="407" y="492.44" font-size="7.2" text-anchor="end" font-weight="normal" fill="#484848">10</text>
<text x="407" y="478.35" font-size="7.2" text-anchor="end" font-weight="normal" fill="#484848">20</text>
<text x="407" y="464.26" font-size="7.2" text-anchor="end" font-weight="normal" fill="#484848">30</text>
<text x="407" y="450.17" font-size="7.2" text-anchor="end" font-weight="normal" fill="#484848">40</text>
<text x="407" y="436.08" font-size="7.2" text-anchor="end" font-weight="normal" fill="#484848">50</text>
<text x="407" y="421.99" font-size="7.2" text-anchor="end" font-weight="normal" fill="#484848">60</text>
<text x="407" y="409.5" font-size="7.2" text-anchor="end" font-weight="normal" fill="#484848">70</text>
<line x1="538.2" y1="538.86" x2="536.2" y2="538.86" stroke="#555" stroke-width="1"/>
<line x1="538.2" y1="531.81" x2="536.2" y2="531.81" stroke="#555" stroke-width="1"/>
<line x1="538.2" y1="524.76" x2="536.2" y2="524.76" stroke="#555" stroke-width="1"/>
<line x1="538.2" y1="517.72" x2="536.2" y2="517.72" stroke="#555" stroke-width="1"/>
<line x1="538.2" y1="510.67" x2="536.2" y2="510.67" stroke="#555" stroke-width="1"/>
<line x1="538.2" y1="503.63" x2="536.2" y2="503.63" stroke="#555" stroke-width="1"/>
<line x1="538.2" y1="496.58" x2="536.2" y2="496.58" stroke="#555" stroke-width="1"/>
<line x1="538.2" y1="489.54" x2="536.2" y2="489.54" stroke="#555" stroke-width="1"/>
<line x1="538.2" y1="482.5" x2="536.2" y2="482.5" stroke="#555" stroke-width="1"/>
<line x1="538.2" y1="475.45" x2="536.2" y2="475.45" stroke="#555" stroke-width="1"/>
<line x1="538.2" y1="468.4" x2="536.2" y2="468.4" stroke="#555" stroke-width="1"/>
<line x1="538.2" y1="461.36" x2="536.2" y2="461.36" stroke="#555" stroke-width="1"/>
<line x1="538.2" y1="454.31" x2="536.2" y2="454.31" stroke="#555" stroke-width="1"/>
<line x1="538.2" y1="447.27" x2="536.2" y2="447.27" stroke="#555" stroke-width="1"/>
<line x1="538.2" y1="440.23" x2="536.2" y2="440.23" stroke="#555" stroke-width="1"/>
<line x1="538.2" y1="433.18" x2="536.2" y2="433.18" stroke="#555" stroke-width="1"/>
<line x1="538.2" y1="426.13" x2="536.2" y2="426.13" stroke="#555" stroke-width="1"/>
<line x1="538.2" y1="419.09" x2="536.2" y2="419.09" stroke="#555" stroke-width="1"/>
<line x1="538.2" y1="412.05" x2="536.2" y2="412.05" stroke="#555" stroke-width="1"/>
<text transform="translate(391.4,474.9) rotate(-90) scale(1.15,1)" font-size="8.2" text-anchor="middle" fill="#484848" textLength="97.13" lengthAdjust="spacing">pix portion w/ p&lt;0.1, %</text>
<line x1="101.2" y1="417.2" x2="119.5" y2="417.2" stroke="#009600" stroke-width="2.6"/>
<line x1="101.2" y1="424.8" x2="119.5" y2="424.8" stroke="#ff0000" stroke-width="2.6"/>
<line x1="101.2" y1="432" x2="119.5" y2="432" stroke="#a04f00" stroke-width="2.6"/>
<text x="122.6" y="419.8" font-size="7.4" text-anchor="start" font-weight="normal" fill="#484848">p(&#916;LAI)</text>
<text x="122.6" y="427.4" font-size="7.4" text-anchor="start" font-weight="normal" fill="#484848">p(&#916;SAT<tspan font-size="5" dy="1.6">E</tspan><tspan dy="-1.6">)</tspan></text>
<text x="122.6" y="434.6" font-size="7.4" text-anchor="start" font-weight="normal" fill="#484848">p(corr)</text>
</svg>
</body></html>
